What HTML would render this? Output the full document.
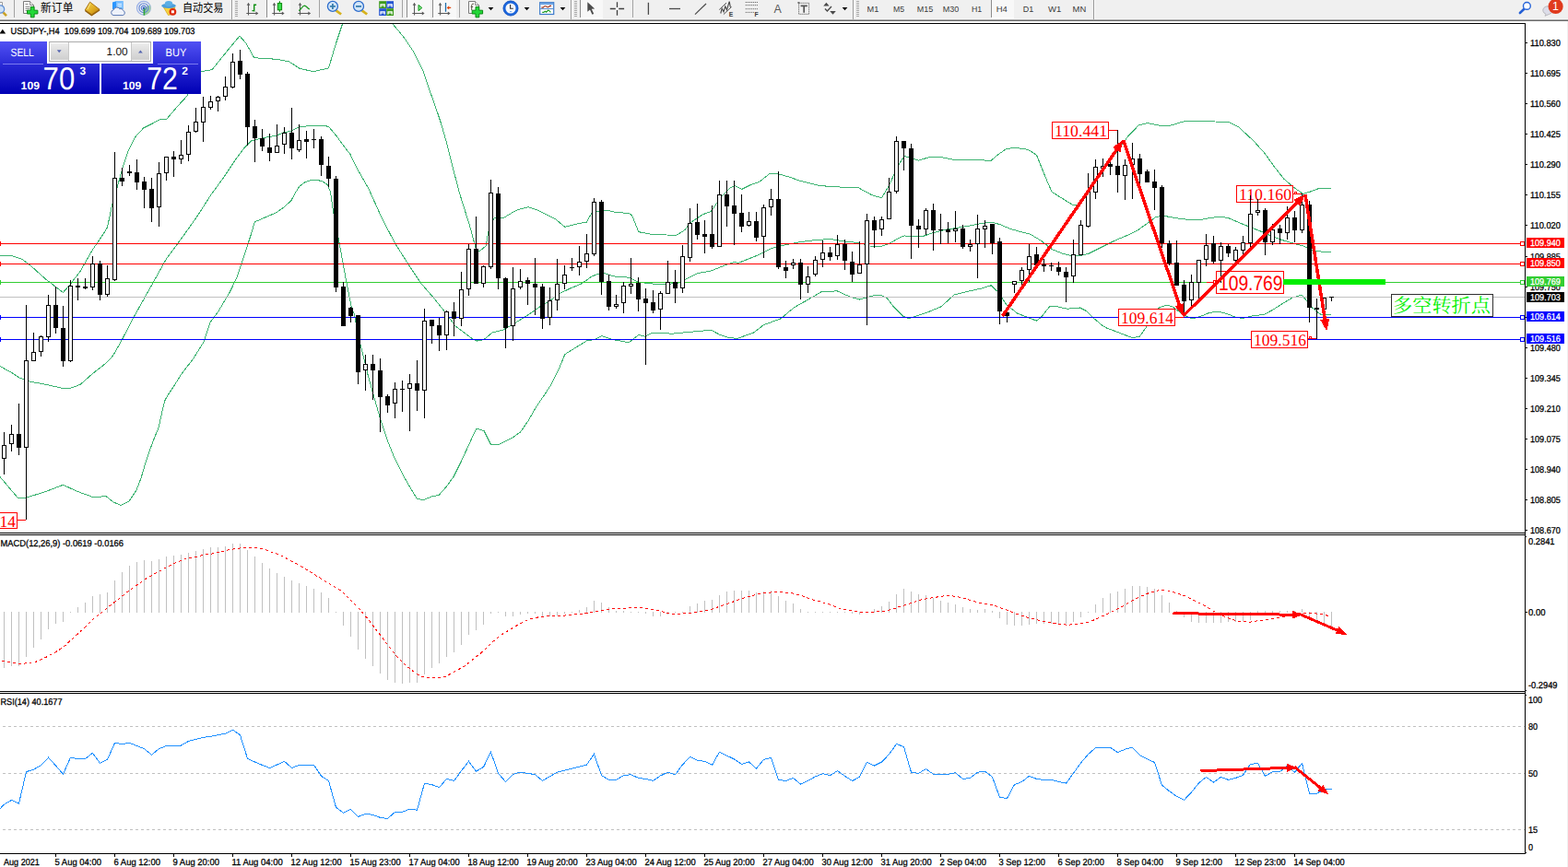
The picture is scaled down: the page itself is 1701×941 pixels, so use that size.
<!DOCTYPE html>
<html><head><meta charset="utf-8"><title>USDJPY H4</title>
<style>html,body{margin:0;padding:0;background:#fff;overflow:hidden}body{width:1701px;height:941px;font-family:"Liberation Sans",sans-serif}text{white-space:pre}</style>
</head><body>
<svg width="1701" height="941" viewBox="0 0 1701 941" style="display:block"><rect x="0" y="0" width="1701" height="941" fill="#ffffff" />
<rect x="0" y="0" width="1701" height="20" fill="#f0f0f0" />
<rect x="0" y="20" width="1701" height="1" fill="#f6f6f6" />
<rect x="0" y="21" width="1701" height="1" fill="#a9a9a9" />
<rect x="0" y="22" width="1701" height="1" fill="#6b6b6b" />
<rect x="0" y="25" width="1655" height="1" fill="#000" />
<rect x="1700" y="23" width="1" height="918" fill="#f0f0f0" />
<rect x="1654" y="25" width="1" height="902" fill="#000" />
<rect x="0" y="578" width="1655" height="1" fill="#000" />
<rect x="0" y="580" width="1655" height="1" fill="#000" />
<rect x="0" y="750" width="1655" height="1" fill="#000" />
<rect x="0" y="752" width="1655" height="1" fill="#000" />
<rect x="0" y="926" width="1655" height="1" fill="#000" />
<rect x="1655" y="579" width="45" height="1" fill="#fff" />
<defs><clipPath id="cm"><rect x="0" y="26" width="1654" height="552"/></clipPath><clipPath id="cmacd"><rect x="0" y="581" width="1654" height="169"/></clipPath><clipPath id="crsi"><rect x="0" y="753" width="1654" height="173"/></clipPath><linearGradient id="gb1" x1="0" y1="0" x2="0" y2="1"><stop offset="0" stop-color="#5252f4"/><stop offset="1" stop-color="#2c2cd8"/></linearGradient><linearGradient id="gb2" x1="0" y1="0" x2="0" y2="1"><stop offset="0" stop-color="#2a2ad6"/><stop offset="1" stop-color="#0000b4"/></linearGradient><linearGradient id="gbtn" x1="0" y1="0" x2="0" y2="1"><stop offset="0" stop-color="#ececec"/><stop offset="0.5" stop-color="#dcdcdc"/><stop offset="1" stop-color="#cfcfcf"/></linearGradient></defs>
<g clip-path="url(#cm)" shape-rendering="crispEdges">
<polyline points="0.0,277.7 13.3,277.7 23.3,281.0 33.4,288.4 50.0,303.4 68.4,317.4 75.0,310.0 86.7,295.0 100.0,271.7 108.0,260.0 111.5,254.9 116.5,246.6 121.4,223.6 127.2,203.0 133.0,182.4 139.5,162.6 147.8,147.0 156.0,138.7 165.9,133.8 172.5,130.1 180.7,129.3 192.3,115.7 203.0,104.1 218.4,77.7 230.0,75.7 246.7,55.0 260.0,39.0 266.7,46.7 275.7,62.7 300.0,64.3 313.3,66.7 325.0,74.3 340.0,77.7 356.5,73.9 364.7,46.4 371.6,25.8 375.0,12.0 400.0,-30.0 421.0,12.0 425.7,25.8 432.0,33.0 438.8,41.5 448.7,56.3 458.6,76.1 465.2,95.8 471.8,114.0 478.4,133.7 485.0,156.8 490.7,179.9 498.8,210.6 510.5,248.2 516.4,270.5 520.0,272.9 527.0,267.0 530.5,248.2 536.4,236.4 547.0,236.0 560.0,228.2 572.8,224.7 583.4,228.2 602.2,237.6 612.8,246.3 625.8,243.0 636.3,241.1 642.2,230.6 654.0,228.2 658.7,228.2 668.1,230.6 682.2,231.3 685.7,234.1 692.8,251.7 708.1,254.5 729.2,255.2 734.0,255.2 743.3,249.4 748.0,242.3 762.1,232.9 771.5,229.4 781.0,215.3 792.7,203.5 797.4,201.9 800.0,203.0 804.7,205.4 814.1,200.7 823.5,197.6 835.3,188.2 844.7,188.9 856.4,192.2 868.2,196.4 889.4,201.6 910.5,203.0 931.7,204.0 945.8,211.7 956.4,214.8 964.6,201.1 974.0,180.0 981.1,169.4 988.1,171.3 996.4,174.1 1007.0,171.0 1018.7,170.1 1035.2,173.4 1058.7,173.6 1075.1,174.3 1082.2,168.2 1091.6,161.6 1101.0,160.2 1115.1,162.3 1124.5,168.2 1133.9,191.7 1141.0,208.2 1150.4,214.1 1159.8,220.0 1164.7,223.0 1169.4,222.3 1183.5,202.3 1197.6,183.5 1211.7,164.7 1223.5,148.2 1235.2,136.0 1244.7,133.6 1261.1,136.9 1270.5,136.0 1287.0,131.0 1301.1,131.0 1334.0,132.9 1343.4,137.6 1359.9,152.9 1371.6,165.9 1383.4,182.3 1392.8,194.1 1402.2,202.3 1413.5,210.5 1421.0,208.2 1430.4,204.7 1444.5,204.0" fill="none" stroke="#3cb371" stroke-width="1" />
<polyline points="0.0,397.5 11.8,404.0 21.2,410.0 31.9,414.0 51.0,417.6 68.2,421.5 77.6,421.0 87.0,417.4 101.1,405.0 115.2,394.0 122.3,386.4 131.7,370.0 145.8,342.9 163.3,311.7 180.0,281.7 199.7,254.9 213.7,235.1 228.5,212.0 241.7,193.9 254.9,174.1 264.7,161.0 273.0,152.7 279.6,151.1 289.5,148.9 299.3,147.4 307.6,143.7 315.8,142.3 324.0,138.2 337.2,136.2 352.1,136.2 357.0,137.9 365.2,147.8 373.5,159.3 380.0,167.5 386.7,181.7 400.0,205.0 414.1,236.4 428.2,263.5 442.3,285.8 456.4,307.0 470.5,323.4 480.0,335.2 487.0,344.6 494.0,354.0 503.5,361.1 512.9,368.1 517.6,370.0 524.6,368.8 534.0,361.1 545.8,358.0 555.2,352.8 564.6,347.0 574.0,341.1 585.8,332.9 597.5,325.8 606.9,318.7 618.7,312.9 630.4,308.2 642.2,299.9 649.3,297.1 656.3,296.9 668.1,300.4 682.2,301.1 691.6,305.8 703.3,307.7 717.5,308.6 733.9,307.7 743.3,303.5 757.4,296.4 771.5,294.0 785.7,288.2 797.4,284.2 800.0,285.8 811.8,281.1 823.5,276.4 837.6,269.3 851.7,265.8 865.8,263.0 880.0,261.1 894.1,259.9 903.5,259.9 917.6,262.3 931.7,263.5 943.4,267.0 955.2,267.7 964.6,264.6 974.0,258.8 981.1,255.9 990.5,256.9 999.9,256.9 1011.6,252.9 1025.7,249.3 1039.9,247.0 1054.0,244.6 1065.7,242.3 1075.1,241.1 1084.5,243.5 1096.3,248.6 1108.0,251.7 1117.5,254.1 1129.2,261.1 1141.0,270.5 1152.7,275.2 1162.1,277.6 1169.4,278.0 1181.2,275.2 1195.3,268.1 1209.4,261.1 1223.5,255.2 1235.2,249.3 1244.7,242.3 1254.1,235.2 1263.5,234.5 1277.6,236.9 1291.7,238.8 1303.4,238.3 1312.9,236.4 1324.6,235.2 1334.0,237.1 1345.8,242.3 1357.5,247.0 1369.3,251.7 1381.0,257.1 1392.8,261.1 1404.6,264.6 1414.0,267.0 1421.0,270.5 1430.4,272.9 1444.5,273.6" fill="none" stroke="#3cb371" stroke-width="1" />
<polyline points="0.0,517.6 19.1,540.0 28.7,540.0 47.8,534.2 68.6,526.2 82.9,533.0 102.1,540.0 114.8,538.4 122.8,544.8 130.8,548.4 139.9,544.2 148.1,531.8 153.1,518.6 158.0,502.1 163.0,487.3 167.9,474.1 172.0,464.3 175.3,449.4 178.6,435.4 181.1,430.5 189.3,418.1 195.9,407.4 200.8,400.8 209.3,389.9 221.0,371.1 228.1,349.9 236.7,338.3 249.3,317.0 256.7,301.7 266.7,271.7 272.2,254.9 276.3,240.9 287.8,235.9 299.3,231.0 307.6,225.2 315.8,217.8 320.8,208.7 324.9,202.1 330.6,198.0 337.2,195.6 343.8,195.2 350.4,197.2 355.4,200.5 358.6,208.7 361.9,231.8 368.3,265.0 375.0,301.7 381.7,335.0 383.9,339.6 391.9,377.8 399.1,406.8 404.9,427.8 412.5,454.6 420.2,477.6 427.8,496.7 437.4,515.8 445.0,529.2 452.3,541.2 459.4,542.6 468.0,539.1 476.2,537.4 484.2,528.2 491.9,517.7 500.5,500.5 510.1,479.5 516.8,465.1 525.0,467.6 532.4,482.3 541.2,482.3 556.0,475.1 564.6,468.9 573.2,456.5 580.8,443.1 590.4,428.8 598.0,417.3 605.7,402.0 612.8,384.6 625.8,376.4 637.5,369.3 644.6,368.8 652.8,364.6 665.7,368.8 682.2,371.7 692.8,363.4 699.8,365.1 708.1,361.1 729.2,362.2 752.7,359.9 771.5,358.2 781.0,363.4 790.4,366.5 799.8,367.4 817.6,361.0 828.2,352.8 847.0,345.8 861.1,334.0 877.6,324.6 891.7,316.4 908.2,315.9 922.3,322.2 932.9,325.1 945.8,321.1 955.2,320.4 962.3,323.4 969.3,332.8 979.9,343.4 986.0,345.5 992.8,343.4 1006.9,338.7 1021.0,332.8 1035.2,319.9 1049.3,316.4 1065.7,312.8 1075.1,309.8 1082.2,316.4 1091.6,330.5 1103.3,339.9 1115.1,344.6 1124.5,348.1 1129.2,344.6 1138.6,332.8 1145.7,332.4 1157.4,335.2 1171.5,334.0 1178.6,337.5 1185.7,344.6 1195.1,352.8 1200.0,355.8 1213.2,360.8 1228.0,366.5 1236.2,365.4 1243.6,355.0 1249.4,344.3 1257.6,333.6 1265.8,331.2 1272.4,333.1 1280.7,339.4 1287.2,343.5 1293.8,346.0 1302.1,343.5 1311.9,339.4 1321.8,338.1 1330.0,340.2 1339.9,344.0 1348.1,345.6 1358.0,343.0 1371.2,341.4 1381.1,336.1 1392.6,328.7 1402.5,322.9 1412.3,320.1 1417.3,326.2 1422.2,332.8 1428.8,338.6 1433.7,341.9 1438.7,341.9 1443.6,341.0" fill="none" stroke="#3cb371" stroke-width="1" />
<rect x="0" y="322" width="1654" height="1" fill="#c0c0c0" />
<rect x="0" y="264" width="1654" height="1" fill="#ff0000" />
<rect x="0" y="286" width="1654" height="1" fill="#ff0000" />
<rect x="0" y="306" width="1654" height="1" fill="#32cd32" />
<rect x="0" y="344" width="1654" height="1" fill="#0000ff" />
<rect x="0" y="368" width="1654" height="1" fill="#0000ff" />
<rect x="0" y="262" width="1" height="5" fill="#ff0000" />
<rect x="0" y="284" width="1" height="5" fill="#ff0000" />
<rect x="0" y="304" width="1" height="5" fill="#32cd32" />
<rect x="0" y="342" width="1" height="5" fill="#0000ff" />
<rect x="0" y="366" width="1" height="5" fill="#0000ff" />
</g>
<rect x="1649" y="262" width="5" height="5" fill="#ff0000" />
<rect x="1650" y="263" width="3" height="3" fill="#fff" />
<rect x="1649" y="284" width="5" height="5" fill="#ff0000" />
<rect x="1650" y="285" width="3" height="3" fill="#fff" />
<rect x="1649" y="304" width="5" height="5" fill="#32cd32" />
<rect x="1650" y="305" width="3" height="3" fill="#fff" />
<rect x="1649" y="342" width="5" height="5" fill="#0000ff" />
<rect x="1650" y="343" width="3" height="3" fill="#fff" />
<rect x="1649" y="366" width="5" height="5" fill="#0000ff" />
<rect x="1650" y="367" width="3" height="3" fill="#fff" />
<rect x="1655" y="46" width="2" height="1" fill="#000" />
<text x="1660" y="50" font-size="10" fill="#000" font-family="Liberation Sans, sans-serif" text-rendering="geometricPrecision" textLength="32.9" lengthAdjust="spacingAndGlyphs" stroke="#000" stroke-width="0.28" >110.830</text>
<rect x="1655" y="79" width="2" height="1" fill="#000" />
<text x="1660" y="83" font-size="10" fill="#000" font-family="Liberation Sans, sans-serif" text-rendering="geometricPrecision" textLength="32.9" lengthAdjust="spacingAndGlyphs" stroke="#000" stroke-width="0.28" >110.695</text>
<rect x="1655" y="112" width="2" height="1" fill="#000" />
<text x="1660" y="116" font-size="10" fill="#000" font-family="Liberation Sans, sans-serif" text-rendering="geometricPrecision" textLength="32.9" lengthAdjust="spacingAndGlyphs" stroke="#000" stroke-width="0.28" >110.560</text>
<rect x="1655" y="145" width="2" height="1" fill="#000" />
<text x="1660" y="149" font-size="10" fill="#000" font-family="Liberation Sans, sans-serif" text-rendering="geometricPrecision" textLength="32.9" lengthAdjust="spacingAndGlyphs" stroke="#000" stroke-width="0.28" >110.425</text>
<rect x="1655" y="178" width="2" height="1" fill="#000" />
<text x="1660" y="182" font-size="10" fill="#000" font-family="Liberation Sans, sans-serif" text-rendering="geometricPrecision" textLength="32.9" lengthAdjust="spacingAndGlyphs" stroke="#000" stroke-width="0.28" >110.290</text>
<rect x="1655" y="211" width="2" height="1" fill="#000" />
<text x="1660" y="215" font-size="10" fill="#000" font-family="Liberation Sans, sans-serif" text-rendering="geometricPrecision" textLength="32.9" lengthAdjust="spacingAndGlyphs" stroke="#000" stroke-width="0.28" >110.155</text>
<rect x="1655" y="244" width="2" height="1" fill="#000" />
<text x="1660" y="248" font-size="10" fill="#000" font-family="Liberation Sans, sans-serif" text-rendering="geometricPrecision" textLength="32.9" lengthAdjust="spacingAndGlyphs" stroke="#000" stroke-width="0.28" >110.020</text>
<rect x="1655" y="278" width="2" height="1" fill="#000" />
<text x="1660" y="282" font-size="10" fill="#000" font-family="Liberation Sans, sans-serif" text-rendering="geometricPrecision" textLength="32.9" lengthAdjust="spacingAndGlyphs" stroke="#000" stroke-width="0.28" >109.885</text>
<rect x="1655" y="311" width="2" height="1" fill="#000" />
<text x="1660" y="315" font-size="10" fill="#000" font-family="Liberation Sans, sans-serif" text-rendering="geometricPrecision" textLength="32.9" lengthAdjust="spacingAndGlyphs" stroke="#000" stroke-width="0.28" >109.750</text>
<rect x="1655" y="344" width="2" height="1" fill="#000" />
<text x="1660" y="348" font-size="10" fill="#000" font-family="Liberation Sans, sans-serif" text-rendering="geometricPrecision" textLength="32.9" lengthAdjust="spacingAndGlyphs" stroke="#000" stroke-width="0.28" >109.615</text>
<rect x="1655" y="377" width="2" height="1" fill="#000" />
<text x="1660" y="381" font-size="10" fill="#000" font-family="Liberation Sans, sans-serif" text-rendering="geometricPrecision" textLength="32.9" lengthAdjust="spacingAndGlyphs" stroke="#000" stroke-width="0.28" >109.480</text>
<rect x="1655" y="410" width="2" height="1" fill="#000" />
<text x="1660" y="414" font-size="10" fill="#000" font-family="Liberation Sans, sans-serif" text-rendering="geometricPrecision" textLength="32.9" lengthAdjust="spacingAndGlyphs" stroke="#000" stroke-width="0.28" >109.345</text>
<rect x="1655" y="443" width="2" height="1" fill="#000" />
<text x="1660" y="447" font-size="10" fill="#000" font-family="Liberation Sans, sans-serif" text-rendering="geometricPrecision" textLength="32.9" lengthAdjust="spacingAndGlyphs" stroke="#000" stroke-width="0.28" >109.210</text>
<rect x="1655" y="476" width="2" height="1" fill="#000" />
<text x="1660" y="480" font-size="10" fill="#000" font-family="Liberation Sans, sans-serif" text-rendering="geometricPrecision" textLength="32.9" lengthAdjust="spacingAndGlyphs" stroke="#000" stroke-width="0.28" >109.075</text>
<rect x="1655" y="509" width="2" height="1" fill="#000" />
<text x="1660" y="513" font-size="10" fill="#000" font-family="Liberation Sans, sans-serif" text-rendering="geometricPrecision" textLength="32.9" lengthAdjust="spacingAndGlyphs" stroke="#000" stroke-width="0.28" >108.940</text>
<rect x="1655" y="542" width="2" height="1" fill="#000" />
<text x="1660" y="546" font-size="10" fill="#000" font-family="Liberation Sans, sans-serif" text-rendering="geometricPrecision" textLength="32.9" lengthAdjust="spacingAndGlyphs" stroke="#000" stroke-width="0.28" >108.805</text>
<rect x="1655" y="575" width="2" height="1" fill="#000" />
<text x="1660" y="579" font-size="10" fill="#000" font-family="Liberation Sans, sans-serif" text-rendering="geometricPrecision" textLength="32.9" lengthAdjust="spacingAndGlyphs" stroke="#000" stroke-width="0.28" >108.670</text>
<rect x="1656" y="258" width="41" height="11" fill="#ff0000" />
<text x="1660" y="267.4" font-size="10" fill="#fff" font-family="Liberation Sans, sans-serif" text-rendering="geometricPrecision" textLength="32.9" lengthAdjust="spacingAndGlyphs" stroke="#fff" stroke-width="0.28" >109.940</text>
<rect x="1656" y="280" width="41" height="11" fill="#ff0000" />
<text x="1660" y="289.4" font-size="10" fill="#fff" font-family="Liberation Sans, sans-serif" text-rendering="geometricPrecision" textLength="32.9" lengthAdjust="spacingAndGlyphs" stroke="#fff" stroke-width="0.28" >109.850</text>
<rect x="1656" y="300" width="41" height="11" fill="#32cd32" />
<text x="1660" y="309.4" font-size="10" fill="#fff" font-family="Liberation Sans, sans-serif" text-rendering="geometricPrecision" textLength="32.9" lengthAdjust="spacingAndGlyphs" stroke="#fff" stroke-width="0.28" >109.769</text>
<rect x="1656" y="317" width="41" height="11" fill="#000000" />
<text x="1660" y="326.4" font-size="10" fill="#fff" font-family="Liberation Sans, sans-serif" text-rendering="geometricPrecision" textLength="32.9" lengthAdjust="spacingAndGlyphs" stroke="#fff" stroke-width="0.28" >109.703</text>
<rect x="1656" y="338" width="41" height="11" fill="#0000ff" />
<text x="1660" y="347.4" font-size="10" fill="#fff" font-family="Liberation Sans, sans-serif" text-rendering="geometricPrecision" textLength="32.9" lengthAdjust="spacingAndGlyphs" stroke="#fff" stroke-width="0.28" >109.614</text>
<rect x="1656" y="362" width="41" height="11" fill="#0000ff" />
<text x="1660" y="371.4" font-size="10" fill="#fff" font-family="Liberation Sans, sans-serif" text-rendering="geometricPrecision" textLength="32.9" lengthAdjust="spacingAndGlyphs" stroke="#fff" stroke-width="0.28" >109.516</text>
<g clip-path="url(#cm)">
<rect x="1141.5" y="132.5" width="61" height="18" fill="#fff" stroke="#ff0000" stroke-width="1" shape-rendering="crispEdges"/>
<text x="1144" y="148" font-size="17.7" fill="#ff0000" font-family="Liberation Serif, serif" text-rendering="geometricPrecision" textLength="57" lengthAdjust="spacingAndGlyphs" >110.441</text>
<rect x="1203" y="141" width="10" height="1" fill="#ff0000" shape-rendering="crispEdges"/>
<rect x="1341.5" y="201.5" width="61" height="18" fill="#fff" stroke="#ff0000" stroke-width="1" shape-rendering="crispEdges"/>
<text x="1344" y="217" font-size="17.7" fill="#ff0000" font-family="Liberation Serif, serif" text-rendering="geometricPrecision" textLength="57" lengthAdjust="spacingAndGlyphs" >110.160</text>
<rect x="1403" y="210" width="10" height="1" fill="#ff0000" shape-rendering="crispEdges"/>
<rect x="1404.5" y="208.5" width="2" height="2" fill="#fff" stroke="#ff0000" stroke-width="1" shape-rendering="crispEdges"/>
<rect x="1213.5" y="335.5" width="61" height="18" fill="#fff" stroke="#ff0000" stroke-width="1" shape-rendering="crispEdges"/>
<text x="1216" y="351" font-size="17.7" fill="#ff0000" font-family="Liberation Serif, serif" text-rendering="geometricPrecision" textLength="57" lengthAdjust="spacingAndGlyphs" >109.614</text>
<rect x="1275" y="344" width="9" height="1" fill="#ff0000" shape-rendering="crispEdges"/>
<rect x="1357.5" y="359.5" width="61" height="18" fill="#fff" stroke="#ff0000" stroke-width="1" shape-rendering="crispEdges"/>
<text x="1360" y="375" font-size="17.7" fill="#ff0000" font-family="Liberation Serif, serif" text-rendering="geometricPrecision" textLength="57" lengthAdjust="spacingAndGlyphs" >109.516</text>
<rect x="1419" y="367" width="10" height="1" fill="#ff0000" shape-rendering="crispEdges"/>
<rect x="1420.5" y="365.5" width="2" height="2" fill="#fff" stroke="#ff0000" stroke-width="1" shape-rendering="crispEdges"/>
<rect x="1309" y="306" width="10" height="1" fill="#ff0000" shape-rendering="crispEdges"/>
<rect x="1316.5" y="304.5" width="2" height="3" fill="#fff" stroke="#ff0000" stroke-width="1" shape-rendering="crispEdges"/>
<rect x="1319.5" y="294.5" width="73" height="24" fill="#fff" stroke="#ff0000" stroke-width="1" shape-rendering="crispEdges"/>
<text x="1322" y="315" font-size="22.5" fill="#ff0000" font-family="Liberation Sans, sans-serif" text-rendering="geometricPrecision" textLength="69.5" lengthAdjust="spacingAndGlyphs" >109.769</text>
<rect x="-42.5" y="556.5" width="61" height="17" fill="#fff" stroke="#ff0000" stroke-width="1" shape-rendering="crispEdges"/>
<text x="-40" y="571.5" font-size="17.7" fill="#ff0000" font-family="Liberation Serif, serif" text-rendering="geometricPrecision" textLength="57" lengthAdjust="spacingAndGlyphs" >108.714</text>
<rect x="19" y="564" width="9" height="1" fill="#ff0000" shape-rendering="crispEdges"/>
</g>
<g clip-path="url(#cm)" shape-rendering="crispEdges">
<rect x="4" y="469" width="1" height="46" fill="#000" />
<rect x="2" y="483" width="5" height="15" fill="#000" />
<rect x="3" y="484" width="3" height="13" fill="#fff" />
<rect x="12" y="461" width="1" height="29" fill="#000" />
<rect x="10" y="471" width="5" height="11" fill="#000" />
<rect x="11" y="472" width="3" height="9" fill="#fff" />
<rect x="20" y="438" width="1" height="56" fill="#000" />
<rect x="18" y="471" width="5" height="15" fill="#000" />
<rect x="28" y="331" width="1" height="233" fill="#000" />
<rect x="26" y="391" width="5" height="95" fill="#000" />
<rect x="27" y="392" width="3" height="93" fill="#fff" />
<rect x="36" y="361" width="1" height="31" fill="#000" />
<rect x="34" y="382" width="5" height="10" fill="#000" />
<rect x="35" y="383" width="3" height="8" fill="#fff" />
<rect x="44" y="364" width="1" height="23" fill="#000" />
<rect x="42" y="365" width="5" height="17" fill="#000" />
<rect x="43" y="366" width="3" height="15" fill="#fff" />
<rect x="52" y="320" width="1" height="51" fill="#000" />
<rect x="50" y="331" width="5" height="35" fill="#000" />
<rect x="51" y="332" width="3" height="33" fill="#fff" />
<rect x="60" y="311" width="1" height="51" fill="#000" />
<rect x="58" y="331" width="5" height="25" fill="#000" />
<rect x="68" y="332" width="1" height="66" fill="#000" />
<rect x="66" y="356" width="5" height="36" fill="#000" />
<rect x="76" y="304" width="1" height="89" fill="#000" />
<rect x="74" y="310" width="5" height="82" fill="#000" />
<rect x="75" y="311" width="3" height="80" fill="#fff" />
<rect x="84" y="302" width="1" height="24" fill="#000" />
<rect x="82" y="310" width="5" height="2" fill="#000" />
<rect x="92" y="302" width="1" height="12" fill="#000" />
<rect x="90" y="311" width="5" height="2" fill="#000" />
<rect x="100" y="278" width="1" height="37" fill="#000" />
<rect x="98" y="286" width="5" height="26" fill="#000" />
<rect x="99" y="287" width="3" height="24" fill="#fff" />
<rect x="108" y="283" width="1" height="43" fill="#000" />
<rect x="106" y="286" width="5" height="34" fill="#000" />
<rect x="116" y="288" width="1" height="34" fill="#000" />
<rect x="114" y="302" width="5" height="18" fill="#000" />
<rect x="115" y="303" width="3" height="16" fill="#fff" />
<rect x="124" y="165" width="1" height="140" fill="#000" />
<rect x="122" y="193" width="5" height="111" fill="#000" />
<rect x="123" y="194" width="3" height="109" fill="#fff" />
<rect x="132" y="182" width="1" height="20" fill="#000" />
<rect x="130" y="193" width="5" height="4" fill="#000" />
<rect x="140" y="179" width="1" height="12" fill="#000" />
<rect x="138" y="186" width="5" height="2" fill="#000" />
<rect x="148" y="173" width="1" height="33" fill="#000" />
<rect x="146" y="187" width="5" height="11" fill="#000" />
<rect x="156" y="192" width="1" height="34" fill="#000" />
<rect x="154" y="197" width="5" height="9" fill="#000" />
<rect x="164" y="193" width="1" height="48" fill="#000" />
<rect x="162" y="205" width="5" height="21" fill="#000" />
<rect x="172" y="176" width="1" height="70" fill="#000" />
<rect x="170" y="188" width="5" height="37" fill="#000" />
<rect x="171" y="189" width="3" height="35" fill="#fff" />
<rect x="180" y="170" width="1" height="26" fill="#000" />
<rect x="178" y="170" width="5" height="18" fill="#000" />
<rect x="179" y="171" width="3" height="16" fill="#fff" />
<rect x="188" y="164" width="1" height="28" fill="#000" />
<rect x="186" y="170" width="5" height="3" fill="#000" />
<rect x="196" y="152" width="1" height="26" fill="#000" />
<rect x="194" y="168" width="5" height="5" fill="#000" />
<rect x="195" y="169" width="3" height="3" fill="#fff" />
<rect x="204" y="136" width="1" height="39" fill="#000" />
<rect x="202" y="143" width="5" height="25" fill="#000" />
<rect x="203" y="144" width="3" height="23" fill="#fff" />
<rect x="212" y="117" width="1" height="27" fill="#000" />
<rect x="210" y="132" width="5" height="11" fill="#000" />
<rect x="211" y="133" width="3" height="9" fill="#fff" />
<rect x="220" y="105" width="1" height="49" fill="#000" />
<rect x="218" y="116" width="5" height="17" fill="#000" />
<rect x="219" y="117" width="3" height="15" fill="#fff" />
<rect x="228" y="104" width="1" height="15" fill="#000" />
<rect x="226" y="110" width="5" height="7" fill="#000" />
<rect x="227" y="111" width="3" height="5" fill="#fff" />
<rect x="236" y="104" width="1" height="17" fill="#000" />
<rect x="234" y="105" width="5" height="5" fill="#000" />
<rect x="235" y="106" width="3" height="3" fill="#fff" />
<rect x="244" y="83" width="1" height="26" fill="#000" />
<rect x="242" y="94" width="5" height="11" fill="#000" />
<rect x="243" y="95" width="3" height="9" fill="#fff" />
<rect x="252" y="58" width="1" height="38" fill="#000" />
<rect x="250" y="67" width="5" height="28" fill="#000" />
<rect x="251" y="68" width="3" height="26" fill="#fff" />
<rect x="260" y="54" width="1" height="32" fill="#000" />
<rect x="258" y="66" width="5" height="15" fill="#000" />
<rect x="268" y="78" width="1" height="80" fill="#000" />
<rect x="266" y="80" width="5" height="58" fill="#000" />
<rect x="276" y="130" width="1" height="46" fill="#000" />
<rect x="274" y="137" width="5" height="13" fill="#000" />
<rect x="284" y="140" width="1" height="24" fill="#000" />
<rect x="282" y="150" width="5" height="9" fill="#000" />
<rect x="292" y="145" width="1" height="30" fill="#000" />
<rect x="290" y="160" width="5" height="6" fill="#000" />
<rect x="300" y="135" width="1" height="31" fill="#000" />
<rect x="298" y="158" width="5" height="8" fill="#000" />
<rect x="299" y="159" width="3" height="6" fill="#fff" />
<rect x="308" y="138" width="1" height="29" fill="#000" />
<rect x="306" y="144" width="5" height="13" fill="#000" />
<rect x="307" y="145" width="3" height="11" fill="#fff" />
<rect x="316" y="117" width="1" height="56" fill="#000" />
<rect x="314" y="144" width="5" height="17" fill="#000" />
<rect x="324" y="135" width="1" height="30" fill="#000" />
<rect x="322" y="152" width="5" height="11" fill="#000" />
<rect x="323" y="153" width="3" height="9" fill="#fff" />
<rect x="332" y="142" width="1" height="30" fill="#000" />
<rect x="330" y="151" width="5" height="3" fill="#000" />
<rect x="340" y="140" width="1" height="21" fill="#000" />
<rect x="338" y="151" width="5" height="1" fill="#000" />
<rect x="348" y="148" width="1" height="43" fill="#000" />
<rect x="346" y="151" width="5" height="28" fill="#000" />
<rect x="356" y="170" width="1" height="33" fill="#000" />
<rect x="354" y="180" width="5" height="14" fill="#000" />
<rect x="364" y="191" width="1" height="126" fill="#000" />
<rect x="362" y="194" width="5" height="118" fill="#000" />
<rect x="372" y="306" width="1" height="48" fill="#000" />
<rect x="370" y="311" width="5" height="43" fill="#000" />
<rect x="380" y="333" width="1" height="17" fill="#000" />
<rect x="378" y="334" width="5" height="9" fill="#000" />
<rect x="388" y="342" width="1" height="75" fill="#000" />
<rect x="386" y="342" width="5" height="62" fill="#000" />
<rect x="396" y="385" width="1" height="39" fill="#000" />
<rect x="394" y="395" width="5" height="7" fill="#000" />
<rect x="395" y="396" width="3" height="5" fill="#fff" />
<rect x="404" y="385" width="1" height="49" fill="#000" />
<rect x="402" y="395" width="5" height="7" fill="#000" />
<rect x="412" y="389" width="1" height="80" fill="#000" />
<rect x="410" y="402" width="5" height="29" fill="#000" />
<rect x="420" y="428" width="1" height="20" fill="#000" />
<rect x="418" y="430" width="5" height="10" fill="#000" />
<rect x="428" y="415" width="1" height="39" fill="#000" />
<rect x="426" y="422" width="5" height="16" fill="#000" />
<rect x="427" y="423" width="3" height="14" fill="#fff" />
<rect x="436" y="413" width="1" height="34" fill="#000" />
<rect x="434" y="422" width="5" height="1" fill="#000" />
<rect x="444" y="406" width="1" height="62" fill="#000" />
<rect x="442" y="416" width="5" height="6" fill="#000" />
<rect x="443" y="417" width="3" height="4" fill="#fff" />
<rect x="452" y="391" width="1" height="55" fill="#000" />
<rect x="450" y="416" width="5" height="8" fill="#000" />
<rect x="460" y="335" width="1" height="119" fill="#000" />
<rect x="458" y="348" width="5" height="76" fill="#000" />
<rect x="459" y="349" width="3" height="74" fill="#fff" />
<rect x="468" y="347" width="1" height="26" fill="#000" />
<rect x="466" y="347" width="5" height="7" fill="#000" />
<rect x="476" y="345" width="1" height="36" fill="#000" />
<rect x="474" y="353" width="5" height="11" fill="#000" />
<rect x="484" y="337" width="1" height="43" fill="#000" />
<rect x="482" y="338" width="5" height="26" fill="#000" />
<rect x="483" y="339" width="3" height="24" fill="#fff" />
<rect x="492" y="328" width="1" height="37" fill="#000" />
<rect x="490" y="338" width="5" height="8" fill="#000" />
<rect x="500" y="295" width="1" height="59" fill="#000" />
<rect x="498" y="314" width="5" height="32" fill="#000" />
<rect x="499" y="315" width="3" height="30" fill="#fff" />
<rect x="508" y="265" width="1" height="56" fill="#000" />
<rect x="506" y="270" width="5" height="44" fill="#000" />
<rect x="507" y="271" width="3" height="42" fill="#fff" />
<rect x="516" y="235" width="1" height="73" fill="#000" />
<rect x="514" y="270" width="5" height="38" fill="#000" />
<rect x="524" y="288" width="1" height="24" fill="#000" />
<rect x="522" y="289" width="5" height="19" fill="#000" />
<rect x="523" y="290" width="3" height="17" fill="#fff" />
<rect x="532" y="195" width="1" height="97" fill="#000" />
<rect x="530" y="209" width="5" height="81" fill="#000" />
<rect x="531" y="210" width="3" height="79" fill="#fff" />
<rect x="540" y="203" width="1" height="111" fill="#000" />
<rect x="538" y="210" width="5" height="92" fill="#000" />
<rect x="548" y="301" width="1" height="77" fill="#000" />
<rect x="546" y="302" width="5" height="54" fill="#000" />
<rect x="556" y="290" width="1" height="80" fill="#000" />
<rect x="554" y="313" width="5" height="41" fill="#000" />
<rect x="555" y="314" width="3" height="39" fill="#fff" />
<rect x="564" y="292" width="1" height="22" fill="#000" />
<rect x="562" y="305" width="5" height="7" fill="#000" />
<rect x="563" y="306" width="3" height="5" fill="#fff" />
<rect x="572" y="301" width="1" height="30" fill="#000" />
<rect x="570" y="304" width="5" height="4" fill="#000" />
<rect x="580" y="280" width="1" height="62" fill="#000" />
<rect x="578" y="308" width="5" height="4" fill="#000" />
<rect x="588" y="308" width="1" height="49" fill="#000" />
<rect x="586" y="311" width="5" height="35" fill="#000" />
<rect x="596" y="312" width="1" height="41" fill="#000" />
<rect x="594" y="326" width="5" height="19" fill="#000" />
<rect x="595" y="327" width="3" height="17" fill="#fff" />
<rect x="604" y="281" width="1" height="56" fill="#000" />
<rect x="602" y="308" width="5" height="18" fill="#000" />
<rect x="603" y="309" width="3" height="16" fill="#fff" />
<rect x="612" y="288" width="1" height="26" fill="#000" />
<rect x="610" y="298" width="5" height="10" fill="#000" />
<rect x="611" y="299" width="3" height="8" fill="#fff" />
<rect x="620" y="280" width="1" height="14" fill="#000" />
<rect x="618" y="290" width="5" height="1" fill="#000" />
<rect x="628" y="267" width="1" height="32" fill="#000" />
<rect x="626" y="284" width="5" height="6" fill="#000" />
<rect x="627" y="285" width="3" height="4" fill="#fff" />
<rect x="636" y="254" width="1" height="37" fill="#000" />
<rect x="634" y="275" width="5" height="9" fill="#000" />
<rect x="635" y="276" width="3" height="7" fill="#fff" />
<rect x="644" y="215" width="1" height="63" fill="#000" />
<rect x="642" y="219" width="5" height="57" fill="#000" />
<rect x="643" y="220" width="3" height="55" fill="#fff" />
<rect x="652" y="217" width="1" height="103" fill="#000" />
<rect x="650" y="219" width="5" height="87" fill="#000" />
<rect x="660" y="298" width="1" height="39" fill="#000" />
<rect x="658" y="305" width="5" height="28" fill="#000" />
<rect x="668" y="320" width="1" height="15" fill="#000" />
<rect x="666" y="330" width="5" height="3" fill="#000" />
<rect x="667" y="331" width="3" height="1" fill="#fff" />
<rect x="676" y="306" width="1" height="34" fill="#000" />
<rect x="674" y="310" width="5" height="19" fill="#000" />
<rect x="675" y="311" width="3" height="17" fill="#fff" />
<rect x="684" y="280" width="1" height="39" fill="#000" />
<rect x="682" y="308" width="5" height="3" fill="#000" />
<rect x="683" y="309" width="3" height="1" fill="#fff" />
<rect x="692" y="301" width="1" height="37" fill="#000" />
<rect x="690" y="307" width="5" height="18" fill="#000" />
<rect x="700" y="313" width="1" height="83" fill="#000" />
<rect x="698" y="324" width="5" height="5" fill="#000" />
<rect x="708" y="315" width="1" height="25" fill="#000" />
<rect x="706" y="328" width="5" height="9" fill="#000" />
<rect x="716" y="316" width="1" height="42" fill="#000" />
<rect x="714" y="318" width="5" height="18" fill="#000" />
<rect x="715" y="319" width="3" height="16" fill="#fff" />
<rect x="724" y="283" width="1" height="36" fill="#000" />
<rect x="722" y="306" width="5" height="13" fill="#000" />
<rect x="723" y="307" width="3" height="11" fill="#fff" />
<rect x="732" y="293" width="1" height="36" fill="#000" />
<rect x="730" y="306" width="5" height="7" fill="#000" />
<rect x="740" y="266" width="1" height="52" fill="#000" />
<rect x="738" y="278" width="5" height="35" fill="#000" />
<rect x="739" y="279" width="3" height="33" fill="#fff" />
<rect x="748" y="226" width="1" height="58" fill="#000" />
<rect x="746" y="242" width="5" height="38" fill="#000" />
<rect x="747" y="243" width="3" height="36" fill="#fff" />
<rect x="756" y="221" width="1" height="39" fill="#000" />
<rect x="754" y="241" width="5" height="14" fill="#000" />
<rect x="764" y="239" width="1" height="36" fill="#000" />
<rect x="762" y="254" width="5" height="3" fill="#000" />
<rect x="772" y="223" width="1" height="47" fill="#000" />
<rect x="770" y="254" width="5" height="14" fill="#000" />
<rect x="780" y="196" width="1" height="72" fill="#000" />
<rect x="778" y="211" width="5" height="57" fill="#000" />
<rect x="779" y="212" width="3" height="55" fill="#fff" />
<rect x="788" y="196" width="1" height="50" fill="#000" />
<rect x="786" y="211" width="5" height="13" fill="#000" />
<rect x="796" y="196" width="1" height="70" fill="#000" />
<rect x="794" y="223" width="5" height="9" fill="#000" />
<rect x="804" y="211" width="1" height="41" fill="#000" />
<rect x="802" y="231" width="5" height="15" fill="#000" />
<rect x="812" y="230" width="1" height="16" fill="#000" />
<rect x="810" y="240" width="5" height="5" fill="#000" />
<rect x="811" y="241" width="3" height="3" fill="#fff" />
<rect x="820" y="230" width="1" height="32" fill="#000" />
<rect x="818" y="240" width="5" height="18" fill="#000" />
<rect x="828" y="222" width="1" height="58" fill="#000" />
<rect x="826" y="225" width="5" height="32" fill="#000" />
<rect x="827" y="226" width="3" height="30" fill="#fff" />
<rect x="836" y="205" width="1" height="29" fill="#000" />
<rect x="834" y="216" width="5" height="9" fill="#000" />
<rect x="835" y="217" width="3" height="7" fill="#fff" />
<rect x="844" y="186" width="1" height="106" fill="#000" />
<rect x="842" y="216" width="5" height="74" fill="#000" />
<rect x="852" y="283" width="1" height="19" fill="#000" />
<rect x="850" y="290" width="5" height="4" fill="#000" />
<rect x="860" y="281" width="1" height="11" fill="#000" />
<rect x="858" y="285" width="5" height="3" fill="#000" />
<rect x="859" y="286" width="3" height="1" fill="#fff" />
<rect x="868" y="281" width="1" height="44" fill="#000" />
<rect x="866" y="285" width="5" height="24" fill="#000" />
<rect x="876" y="289" width="1" height="29" fill="#000" />
<rect x="874" y="300" width="5" height="9" fill="#000" />
<rect x="875" y="301" width="3" height="7" fill="#fff" />
<rect x="884" y="278" width="1" height="22" fill="#000" />
<rect x="882" y="282" width="5" height="16" fill="#000" />
<rect x="883" y="283" width="3" height="14" fill="#fff" />
<rect x="892" y="261" width="1" height="29" fill="#000" />
<rect x="890" y="274" width="5" height="8" fill="#000" />
<rect x="891" y="275" width="3" height="6" fill="#fff" />
<rect x="900" y="268" width="1" height="15" fill="#000" />
<rect x="898" y="274" width="5" height="5" fill="#000" />
<rect x="908" y="255" width="1" height="27" fill="#000" />
<rect x="906" y="265" width="5" height="13" fill="#000" />
<rect x="907" y="266" width="3" height="11" fill="#fff" />
<rect x="916" y="260" width="1" height="33" fill="#000" />
<rect x="914" y="265" width="5" height="18" fill="#000" />
<rect x="924" y="273" width="1" height="33" fill="#000" />
<rect x="922" y="284" width="5" height="14" fill="#000" />
<rect x="932" y="262" width="1" height="35" fill="#000" />
<rect x="930" y="287" width="5" height="10" fill="#000" />
<rect x="931" y="288" width="3" height="8" fill="#fff" />
<rect x="940" y="232" width="1" height="121" fill="#000" />
<rect x="938" y="239" width="5" height="48" fill="#000" />
<rect x="939" y="240" width="3" height="46" fill="#fff" />
<rect x="948" y="235" width="1" height="34" fill="#000" />
<rect x="946" y="239" width="5" height="11" fill="#000" />
<rect x="956" y="235" width="1" height="21" fill="#000" />
<rect x="954" y="238" width="5" height="11" fill="#000" />
<rect x="955" y="239" width="3" height="9" fill="#fff" />
<rect x="964" y="193" width="1" height="45" fill="#000" />
<rect x="962" y="208" width="5" height="30" fill="#000" />
<rect x="963" y="209" width="3" height="28" fill="#fff" />
<rect x="972" y="148" width="1" height="62" fill="#000" />
<rect x="970" y="153" width="5" height="55" fill="#000" />
<rect x="971" y="154" width="3" height="53" fill="#fff" />
<rect x="980" y="153" width="1" height="32" fill="#000" />
<rect x="978" y="153" width="5" height="8" fill="#000" />
<rect x="988" y="156" width="1" height="125" fill="#000" />
<rect x="986" y="161" width="5" height="84" fill="#000" />
<rect x="996" y="238" width="1" height="31" fill="#000" />
<rect x="994" y="245" width="5" height="4" fill="#000" />
<rect x="1004" y="226" width="1" height="29" fill="#000" />
<rect x="1002" y="228" width="5" height="21" fill="#000" />
<rect x="1003" y="229" width="3" height="19" fill="#fff" />
<rect x="1012" y="221" width="1" height="51" fill="#000" />
<rect x="1010" y="228" width="5" height="22" fill="#000" />
<rect x="1020" y="232" width="1" height="33" fill="#000" />
<rect x="1018" y="249" width="5" height="1" fill="#000" />
<rect x="1028" y="241" width="1" height="23" fill="#000" />
<rect x="1026" y="249" width="5" height="3" fill="#000" />
<rect x="1036" y="229" width="1" height="34" fill="#000" />
<rect x="1034" y="248" width="5" height="3" fill="#000" />
<rect x="1035" y="249" width="3" height="1" fill="#fff" />
<rect x="1044" y="244" width="1" height="26" fill="#000" />
<rect x="1042" y="248" width="5" height="20" fill="#000" />
<rect x="1052" y="260" width="1" height="13" fill="#000" />
<rect x="1050" y="265" width="5" height="3" fill="#000" />
<rect x="1051" y="266" width="3" height="1" fill="#fff" />
<rect x="1060" y="233" width="1" height="69" fill="#000" />
<rect x="1058" y="248" width="5" height="17" fill="#000" />
<rect x="1059" y="249" width="3" height="15" fill="#fff" />
<rect x="1068" y="239" width="1" height="30" fill="#000" />
<rect x="1066" y="245" width="5" height="4" fill="#000" />
<rect x="1067" y="246" width="3" height="2" fill="#fff" />
<rect x="1076" y="243" width="1" height="33" fill="#000" />
<rect x="1074" y="243" width="5" height="21" fill="#000" />
<rect x="1084" y="258" width="1" height="94" fill="#000" />
<rect x="1082" y="262" width="5" height="76" fill="#000" />
<rect x="1092" y="338" width="1" height="12" fill="#000" />
<rect x="1090" y="339" width="5" height="4" fill="#000" />
<rect x="1100" y="305" width="1" height="13" fill="#000" />
<rect x="1098" y="305" width="5" height="4" fill="#000" />
<rect x="1099" y="306" width="3" height="2" fill="#fff" />
<rect x="1108" y="290" width="1" height="20" fill="#000" />
<rect x="1106" y="293" width="5" height="12" fill="#000" />
<rect x="1107" y="294" width="3" height="10" fill="#fff" />
<rect x="1116" y="265" width="1" height="41" fill="#000" />
<rect x="1114" y="278" width="5" height="15" fill="#000" />
<rect x="1115" y="279" width="3" height="13" fill="#fff" />
<rect x="1124" y="268" width="1" height="20" fill="#000" />
<rect x="1122" y="276" width="5" height="12" fill="#000" />
<rect x="1132" y="281" width="1" height="14" fill="#000" />
<rect x="1130" y="287" width="5" height="2" fill="#000" />
<rect x="1140" y="285" width="1" height="9" fill="#000" />
<rect x="1138" y="288" width="5" height="1" fill="#000" />
<rect x="1148" y="284" width="1" height="15" fill="#000" />
<rect x="1146" y="290" width="5" height="5" fill="#000" />
<rect x="1156" y="290" width="1" height="38" fill="#000" />
<rect x="1154" y="295" width="5" height="6" fill="#000" />
<rect x="1164" y="260" width="1" height="47" fill="#000" />
<rect x="1162" y="276" width="5" height="24" fill="#000" />
<rect x="1163" y="277" width="3" height="22" fill="#fff" />
<rect x="1172" y="239" width="1" height="38" fill="#000" />
<rect x="1170" y="244" width="5" height="33" fill="#000" />
<rect x="1171" y="245" width="3" height="31" fill="#fff" />
<rect x="1180" y="188" width="1" height="59" fill="#000" />
<rect x="1178" y="208" width="5" height="38" fill="#000" />
<rect x="1179" y="209" width="3" height="36" fill="#fff" />
<rect x="1188" y="173" width="1" height="43" fill="#000" />
<rect x="1186" y="181" width="5" height="28" fill="#000" />
<rect x="1187" y="182" width="3" height="26" fill="#fff" />
<rect x="1196" y="172" width="1" height="20" fill="#000" />
<rect x="1194" y="180" width="5" height="3" fill="#000" />
<rect x="1195" y="181" width="3" height="1" fill="#fff" />
<rect x="1204" y="169" width="1" height="21" fill="#000" />
<rect x="1202" y="178" width="5" height="3" fill="#000" />
<rect x="1212" y="141" width="1" height="68" fill="#000" />
<rect x="1210" y="180" width="5" height="10" fill="#000" />
<rect x="1220" y="173" width="1" height="44" fill="#000" />
<rect x="1218" y="179" width="5" height="12" fill="#000" />
<rect x="1219" y="180" width="3" height="10" fill="#fff" />
<rect x="1228" y="155" width="1" height="61" fill="#000" />
<rect x="1226" y="172" width="5" height="7" fill="#000" />
<rect x="1227" y="173" width="3" height="5" fill="#fff" />
<rect x="1236" y="167" width="1" height="32" fill="#000" />
<rect x="1234" y="172" width="5" height="17" fill="#000" />
<rect x="1244" y="184" width="1" height="14" fill="#000" />
<rect x="1242" y="186" width="5" height="12" fill="#000" />
<rect x="1252" y="184" width="1" height="44" fill="#000" />
<rect x="1250" y="197" width="5" height="7" fill="#000" />
<rect x="1260" y="201" width="1" height="68" fill="#000" />
<rect x="1258" y="203" width="5" height="61" fill="#000" />
<rect x="1268" y="261" width="1" height="27" fill="#000" />
<rect x="1266" y="264" width="5" height="22" fill="#000" />
<rect x="1276" y="261" width="1" height="49" fill="#000" />
<rect x="1274" y="285" width="5" height="25" fill="#000" />
<rect x="1284" y="304" width="1" height="40" fill="#000" />
<rect x="1282" y="309" width="5" height="18" fill="#000" />
<rect x="1292" y="298" width="1" height="36" fill="#000" />
<rect x="1290" y="306" width="5" height="20" fill="#000" />
<rect x="1291" y="307" width="3" height="18" fill="#fff" />
<rect x="1300" y="282" width="1" height="43" fill="#000" />
<rect x="1298" y="282" width="5" height="25" fill="#000" />
<rect x="1299" y="283" width="3" height="23" fill="#fff" />
<rect x="1308" y="254" width="1" height="35" fill="#000" />
<rect x="1306" y="266" width="5" height="16" fill="#000" />
<rect x="1307" y="267" width="3" height="14" fill="#fff" />
<rect x="1316" y="256" width="1" height="30" fill="#000" />
<rect x="1314" y="264" width="5" height="20" fill="#000" />
<rect x="1324" y="263" width="1" height="44" fill="#000" />
<rect x="1322" y="267" width="5" height="16" fill="#000" />
<rect x="1323" y="268" width="3" height="14" fill="#fff" />
<rect x="1332" y="265" width="1" height="14" fill="#000" />
<rect x="1330" y="267" width="5" height="8" fill="#000" />
<rect x="1340" y="268" width="1" height="18" fill="#000" />
<rect x="1338" y="271" width="5" height="12" fill="#000" />
<rect x="1339" y="272" width="3" height="10" fill="#fff" />
<rect x="1348" y="256" width="1" height="22" fill="#000" />
<rect x="1346" y="263" width="5" height="9" fill="#000" />
<rect x="1347" y="264" width="3" height="7" fill="#fff" />
<rect x="1356" y="212" width="1" height="58" fill="#000" />
<rect x="1354" y="232" width="5" height="32" fill="#000" />
<rect x="1355" y="233" width="3" height="30" fill="#fff" />
<rect x="1364" y="216" width="1" height="18" fill="#000" />
<rect x="1362" y="228" width="5" height="3" fill="#000" />
<rect x="1363" y="229" width="3" height="1" fill="#fff" />
<rect x="1372" y="226" width="1" height="51" fill="#000" />
<rect x="1370" y="228" width="5" height="35" fill="#000" />
<rect x="1380" y="243" width="1" height="23" fill="#000" />
<rect x="1378" y="249" width="5" height="14" fill="#000" />
<rect x="1379" y="250" width="3" height="12" fill="#fff" />
<rect x="1388" y="244" width="1" height="21" fill="#000" />
<rect x="1386" y="248" width="5" height="5" fill="#000" />
<rect x="1396" y="224" width="1" height="36" fill="#000" />
<rect x="1394" y="236" width="5" height="17" fill="#000" />
<rect x="1395" y="237" width="3" height="15" fill="#fff" />
<rect x="1404" y="229" width="1" height="34" fill="#000" />
<rect x="1402" y="236" width="5" height="14" fill="#000" />
<rect x="1412" y="210" width="1" height="43" fill="#000" />
<rect x="1410" y="222" width="5" height="28" fill="#000" />
<rect x="1411" y="223" width="3" height="26" fill="#fff" />
<rect x="1420" y="218" width="1" height="132" fill="#000" />
<rect x="1418" y="222" width="5" height="112" fill="#000" />
<rect x="1428" y="324" width="1" height="44" fill="#000" />
<rect x="1426" y="334" width="5" height="2" fill="#000" />
<rect x="1436" y="323" width="1" height="13" fill="#000" />
<rect x="1434" y="323" width="5" height="13" fill="#000" />
<rect x="1435" y="324" width="3" height="11" fill="#fff" />
<rect x="1444" y="322" width="1" height="5" fill="#000" />
<rect x="1442" y="322" width="5" height="1" fill="#000" />
</g>
<g clip-path="url(#cm)">
<line x1="1087.5" y1="343.0" x2="1212.3" y2="161.1" stroke="#ff0000" stroke-width="3.5" shape-rendering="crispEdges"/>
<polygon points="1218.5,152.0 1215.3,165.5 1207.0,159.9" fill="#ff0000" shape-rendering="crispEdges"/>
<line x1="1218.5" y1="152.0" x2="1280.0" y2="332.6" stroke="#ff0000" stroke-width="3.5" shape-rendering="crispEdges"/>
<polygon points="1283.5,343.0 1274.6,332.3 1284.0,329.1" fill="#ff0000" shape-rendering="crispEdges"/>
<line x1="1283.5" y1="343.0" x2="1408.2" y2="218.8" stroke="#ff0000" stroke-width="3.5" shape-rendering="crispEdges"/>
<polygon points="1416.0,211.0 1410.3,223.7 1403.3,216.6" fill="#ff0000" shape-rendering="crispEdges"/>
<line x1="1416.0" y1="211.0" x2="1437.6" y2="348.6" stroke="#ff0000" stroke-width="3.5" shape-rendering="crispEdges"/>
<polygon points="1439.3,359.5 1432.3,347.4 1442.2,345.9" fill="#ff0000" shape-rendering="crispEdges"/>
<rect x="1392" y="303" width="111" height="6" fill="#00ee00" shape-rendering="crispEdges"/>
</g>
<rect x="1509.5" y="319.5" width="110" height="24" fill="#fff" stroke="#303030" stroke-width="1" shape-rendering="crispEdges"/>
<text x="1511" y="338.5" font-size="21.2" fill="#00f000" font-family="Liberation Serif, Noto Serif CJK SC, serif" text-rendering="geometricPrecision" textLength="106" lengthAdjust="spacingAndGlyphs">多空转折点</text>
<polygon points="-0.5,36.4 2.8,31.8 6.2,36.4" fill="#000"/>
<text x="11.5" y="37" font-size="10" fill="#000" font-family="Liberation Sans, sans-serif" text-rendering="geometricPrecision" textLength="200" lengthAdjust="spacingAndGlyphs" stroke="#000" stroke-width="0.28" >USDJPY-,H4&#160;&#160;109.699 109.704 109.689 109.703</text>
<rect x="0" y="45" width="51" height="24" fill="url(#gb1)" />
<rect x="166" y="45" width="52" height="24" fill="url(#gb1)" />
<rect x="0" y="69" width="108" height="33" fill="url(#gb2)" />
<rect x="110" y="69" width="108" height="33" fill="url(#gb2)" />
<rect x="51" y="68" width="115" height="1" fill="#fff" />
<rect x="108" y="69" width="2" height="33" fill="#fff" />
<rect x="3" y="69" width="44" height="1" fill="#7a7af0" />
<rect x="171" y="69" width="44" height="1" fill="#7a7af0" />
<rect x="53.5" y="45.5" width="110" height="21" fill="#fff" stroke="#ababab" stroke-width="1" shape-rendering="crispEdges"/>
<rect x="55" y="47" width="19" height="18" fill="url(#gbtn)" />
<rect x="143" y="47" width="19" height="18" fill="url(#gbtn)" />
<rect x="74" y="46" width="1" height="20" fill="#c8c8c8" />
<rect x="142" y="46" width="1" height="20" fill="#c8c8c8" />
<polygon points="61.8,54.2 66.6,54.2 64.2,57.2" fill="#5666b0"/>
<polygon points="150,57.4 154.8,57.4 152.4,54.4" fill="#5666b0"/>
<text x="11.5" y="60.6" font-size="12" fill="#fff" font-family="Liberation Sans, sans-serif" text-rendering="geometricPrecision" textLength="25.3" lengthAdjust="spacingAndGlyphs" >SELL</text>
<text x="179.6" y="60.6" font-size="12" fill="#fff" font-family="Liberation Sans, sans-serif" text-rendering="geometricPrecision" textLength="22.8" lengthAdjust="spacingAndGlyphs" >BUY</text>
<text x="138.6" y="59.8" font-size="12" fill="#101010" font-family="Liberation Sans, sans-serif" text-rendering="geometricPrecision" text-anchor="end" textLength="23" lengthAdjust="spacingAndGlyphs" >1.00</text>
<text x="22.6" y="96.9" font-size="12" fill="#fff" font-family="Liberation Sans, sans-serif" text-rendering="geometricPrecision" textLength="20.4" lengthAdjust="spacingAndGlyphs" font-weight="bold" >109</text>
<text x="46.6" y="97" font-size="34.5" fill="#fff" font-family="Liberation Sans, sans-serif" text-rendering="geometricPrecision" textLength="34.6" lengthAdjust="spacingAndGlyphs" >70</text>
<text x="86.6" y="81" font-size="12" fill="#fff" font-family="Liberation Sans, sans-serif" text-rendering="geometricPrecision" font-weight="bold" >3</text>
<text x="133" y="96.9" font-size="12" fill="#fff" font-family="Liberation Sans, sans-serif" text-rendering="geometricPrecision" textLength="20.4" lengthAdjust="spacingAndGlyphs" font-weight="bold" >109</text>
<text x="159.2" y="97" font-size="34.5" fill="#fff" font-family="Liberation Sans, sans-serif" text-rendering="geometricPrecision" textLength="33.6" lengthAdjust="spacingAndGlyphs" >72</text>
<text x="197.2" y="81" font-size="12" fill="#fff" font-family="Liberation Sans, sans-serif" text-rendering="geometricPrecision" font-weight="bold" >2</text>
<g clip-path="url(#cmacd)" shape-rendering="crispEdges">
<rect x="4" y="664" width="1" height="61" fill="#c0c0c0" />
<rect x="12" y="664" width="1" height="59" fill="#c0c0c0" />
<rect x="20" y="664" width="1" height="59" fill="#c0c0c0" />
<rect x="28" y="664" width="1" height="49" fill="#c0c0c0" />
<rect x="36" y="664" width="1" height="39" fill="#c0c0c0" />
<rect x="44" y="664" width="1" height="30" fill="#c0c0c0" />
<rect x="52" y="664" width="1" height="19" fill="#c0c0c0" />
<rect x="60" y="664" width="1" height="13" fill="#c0c0c0" />
<rect x="68" y="664" width="1" height="11" fill="#c0c0c0" />
<rect x="76" y="664" width="1" height="1" fill="#c0c0c0" />
<rect x="84" y="659" width="1" height="6" fill="#c0c0c0" />
<rect x="92" y="654" width="1" height="11" fill="#c0c0c0" />
<rect x="100" y="647" width="1" height="18" fill="#c0c0c0" />
<rect x="108" y="645" width="1" height="20" fill="#c0c0c0" />
<rect x="116" y="643" width="1" height="22" fill="#c0c0c0" />
<rect x="124" y="630" width="1" height="35" fill="#c0c0c0" />
<rect x="132" y="621" width="1" height="44" fill="#c0c0c0" />
<rect x="140" y="614" width="1" height="51" fill="#c0c0c0" />
<rect x="148" y="610" width="1" height="55" fill="#c0c0c0" />
<rect x="156" y="608" width="1" height="57" fill="#c0c0c0" />
<rect x="164" y="609" width="1" height="56" fill="#c0c0c0" />
<rect x="172" y="607" width="1" height="58" fill="#c0c0c0" />
<rect x="180" y="604" width="1" height="61" fill="#c0c0c0" />
<rect x="188" y="603" width="1" height="62" fill="#c0c0c0" />
<rect x="196" y="602" width="1" height="63" fill="#c0c0c0" />
<rect x="204" y="600" width="1" height="65" fill="#c0c0c0" />
<rect x="212" y="598" width="1" height="67" fill="#c0c0c0" />
<rect x="220" y="596" width="1" height="69" fill="#c0c0c0" />
<rect x="228" y="594" width="1" height="71" fill="#c0c0c0" />
<rect x="236" y="594" width="1" height="71" fill="#c0c0c0" />
<rect x="244" y="593" width="1" height="72" fill="#c0c0c0" />
<rect x="252" y="590" width="1" height="75" fill="#c0c0c0" />
<rect x="260" y="590" width="1" height="75" fill="#c0c0c0" />
<rect x="268" y="597" width="1" height="68" fill="#c0c0c0" />
<rect x="276" y="604" width="1" height="61" fill="#c0c0c0" />
<rect x="284" y="611" width="1" height="54" fill="#c0c0c0" />
<rect x="292" y="617" width="1" height="48" fill="#c0c0c0" />
<rect x="300" y="622" width="1" height="43" fill="#c0c0c0" />
<rect x="308" y="626" width="1" height="39" fill="#c0c0c0" />
<rect x="316" y="630" width="1" height="35" fill="#c0c0c0" />
<rect x="324" y="633" width="1" height="32" fill="#c0c0c0" />
<rect x="332" y="636" width="1" height="29" fill="#c0c0c0" />
<rect x="340" y="639" width="1" height="26" fill="#c0c0c0" />
<rect x="348" y="643" width="1" height="22" fill="#c0c0c0" />
<rect x="356" y="649" width="1" height="16" fill="#c0c0c0" />
<rect x="364" y="664" width="1" height="1" fill="#c0c0c0" />
<rect x="372" y="664" width="1" height="15" fill="#c0c0c0" />
<rect x="380" y="664" width="1" height="27" fill="#c0c0c0" />
<rect x="388" y="664" width="1" height="41" fill="#c0c0c0" />
<rect x="396" y="664" width="1" height="51" fill="#c0c0c0" />
<rect x="404" y="664" width="1" height="59" fill="#c0c0c0" />
<rect x="412" y="664" width="1" height="67" fill="#c0c0c0" />
<rect x="420" y="664" width="1" height="74" fill="#c0c0c0" />
<rect x="428" y="664" width="1" height="77" fill="#c0c0c0" />
<rect x="436" y="664" width="1" height="78" fill="#c0c0c0" />
<rect x="444" y="664" width="1" height="77" fill="#c0c0c0" />
<rect x="452" y="664" width="1" height="77" fill="#c0c0c0" />
<rect x="460" y="664" width="1" height="68" fill="#c0c0c0" />
<rect x="468" y="664" width="1" height="61" fill="#c0c0c0" />
<rect x="476" y="664" width="1" height="56" fill="#c0c0c0" />
<rect x="484" y="664" width="1" height="49" fill="#c0c0c0" />
<rect x="492" y="664" width="1" height="44" fill="#c0c0c0" />
<rect x="500" y="664" width="1" height="36" fill="#c0c0c0" />
<rect x="508" y="664" width="1" height="25" fill="#c0c0c0" />
<rect x="516" y="664" width="1" height="20" fill="#c0c0c0" />
<rect x="524" y="664" width="1" height="14" fill="#c0c0c0" />
<rect x="532" y="664" width="1" height="2" fill="#c0c0c0" />
<rect x="540" y="664" width="1" height="1" fill="#c0c0c0" />
<rect x="548" y="664" width="1" height="5" fill="#c0c0c0" />
<rect x="556" y="664" width="1" height="5" fill="#c0c0c0" />
<rect x="564" y="664" width="1" height="3" fill="#c0c0c0" />
<rect x="572" y="664" width="1" height="2" fill="#c0c0c0" />
<rect x="580" y="664" width="1" height="2" fill="#c0c0c0" />
<rect x="588" y="664" width="1" height="5" fill="#c0c0c0" />
<rect x="596" y="664" width="1" height="5" fill="#c0c0c0" />
<rect x="604" y="664" width="1" height="4" fill="#c0c0c0" />
<rect x="612" y="664" width="1" height="2" fill="#c0c0c0" />
<rect x="620" y="664" width="1" height="1" fill="#c0c0c0" />
<rect x="628" y="662" width="1" height="3" fill="#c0c0c0" />
<rect x="636" y="659" width="1" height="6" fill="#c0c0c0" />
<rect x="644" y="652" width="1" height="13" fill="#c0c0c0" />
<rect x="652" y="654" width="1" height="11" fill="#c0c0c0" />
<rect x="660" y="659" width="1" height="6" fill="#c0c0c0" />
<rect x="668" y="663" width="1" height="2" fill="#c0c0c0" />
<rect x="676" y="663" width="1" height="2" fill="#c0c0c0" />
<rect x="684" y="664" width="1" height="1" fill="#c0c0c0" />
<rect x="692" y="664" width="1" height="1" fill="#c0c0c0" />
<rect x="700" y="664" width="1" height="2" fill="#c0c0c0" />
<rect x="708" y="664" width="1" height="5" fill="#c0c0c0" />
<rect x="716" y="664" width="1" height="5" fill="#c0c0c0" />
<rect x="724" y="664" width="1" height="3" fill="#c0c0c0" />
<rect x="732" y="664" width="1" height="1" fill="#c0c0c0" />
<rect x="740" y="664" width="1" height="1" fill="#c0c0c0" />
<rect x="748" y="658" width="1" height="7" fill="#c0c0c0" />
<rect x="756" y="655" width="1" height="10" fill="#c0c0c0" />
<rect x="764" y="652" width="1" height="13" fill="#c0c0c0" />
<rect x="772" y="651" width="1" height="14" fill="#c0c0c0" />
<rect x="780" y="646" width="1" height="19" fill="#c0c0c0" />
<rect x="788" y="642" width="1" height="23" fill="#c0c0c0" />
<rect x="796" y="641" width="1" height="24" fill="#c0c0c0" />
<rect x="804" y="641" width="1" height="24" fill="#c0c0c0" />
<rect x="812" y="641" width="1" height="24" fill="#c0c0c0" />
<rect x="820" y="643" width="1" height="22" fill="#c0c0c0" />
<rect x="828" y="642" width="1" height="23" fill="#c0c0c0" />
<rect x="836" y="641" width="1" height="24" fill="#c0c0c0" />
<rect x="844" y="647" width="1" height="18" fill="#c0c0c0" />
<rect x="852" y="652" width="1" height="13" fill="#c0c0c0" />
<rect x="860" y="655" width="1" height="10" fill="#c0c0c0" />
<rect x="868" y="661" width="1" height="4" fill="#c0c0c0" />
<rect x="876" y="664" width="1" height="1" fill="#c0c0c0" />
<rect x="884" y="664" width="1" height="1" fill="#c0c0c0" />
<rect x="892" y="664" width="1" height="1" fill="#c0c0c0" />
<rect x="900" y="664" width="1" height="1" fill="#c0c0c0" />
<rect x="908" y="664" width="1" height="1" fill="#c0c0c0" />
<rect x="916" y="664" width="1" height="1" fill="#c0c0c0" />
<rect x="924" y="664" width="1" height="2" fill="#c0c0c0" />
<rect x="932" y="664" width="1" height="3" fill="#c0c0c0" />
<rect x="940" y="664" width="1" height="1" fill="#c0c0c0" />
<rect x="948" y="661" width="1" height="4" fill="#c0c0c0" />
<rect x="956" y="658" width="1" height="7" fill="#c0c0c0" />
<rect x="964" y="653" width="1" height="12" fill="#c0c0c0" />
<rect x="972" y="645" width="1" height="20" fill="#c0c0c0" />
<rect x="980" y="639" width="1" height="26" fill="#c0c0c0" />
<rect x="988" y="642" width="1" height="23" fill="#c0c0c0" />
<rect x="996" y="645" width="1" height="20" fill="#c0c0c0" />
<rect x="1004" y="646" width="1" height="19" fill="#c0c0c0" />
<rect x="1012" y="649" width="1" height="16" fill="#c0c0c0" />
<rect x="1020" y="652" width="1" height="13" fill="#c0c0c0" />
<rect x="1028" y="654" width="1" height="11" fill="#c0c0c0" />
<rect x="1036" y="656" width="1" height="9" fill="#c0c0c0" />
<rect x="1044" y="659" width="1" height="6" fill="#c0c0c0" />
<rect x="1052" y="661" width="1" height="4" fill="#c0c0c0" />
<rect x="1060" y="662" width="1" height="3" fill="#c0c0c0" />
<rect x="1068" y="661" width="1" height="4" fill="#c0c0c0" />
<rect x="1076" y="663" width="1" height="2" fill="#c0c0c0" />
<rect x="1084" y="664" width="1" height="7" fill="#c0c0c0" />
<rect x="1092" y="664" width="1" height="14" fill="#c0c0c0" />
<rect x="1100" y="664" width="1" height="15" fill="#c0c0c0" />
<rect x="1108" y="664" width="1" height="15" fill="#c0c0c0" />
<rect x="1116" y="664" width="1" height="14" fill="#c0c0c0" />
<rect x="1124" y="664" width="1" height="13" fill="#c0c0c0" />
<rect x="1132" y="664" width="1" height="13" fill="#c0c0c0" />
<rect x="1140" y="664" width="1" height="13" fill="#c0c0c0" />
<rect x="1148" y="664" width="1" height="14" fill="#c0c0c0" />
<rect x="1156" y="664" width="1" height="13" fill="#c0c0c0" />
<rect x="1164" y="664" width="1" height="11" fill="#c0c0c0" />
<rect x="1172" y="664" width="1" height="6" fill="#c0c0c0" />
<rect x="1180" y="664" width="1" height="1" fill="#c0c0c0" />
<rect x="1188" y="656" width="1" height="9" fill="#c0c0c0" />
<rect x="1196" y="649" width="1" height="16" fill="#c0c0c0" />
<rect x="1204" y="644" width="1" height="21" fill="#c0c0c0" />
<rect x="1212" y="642" width="1" height="23" fill="#c0c0c0" />
<rect x="1220" y="639" width="1" height="26" fill="#c0c0c0" />
<rect x="1228" y="636" width="1" height="29" fill="#c0c0c0" />
<rect x="1236" y="636" width="1" height="29" fill="#c0c0c0" />
<rect x="1244" y="637" width="1" height="28" fill="#c0c0c0" />
<rect x="1252" y="639" width="1" height="26" fill="#c0c0c0" />
<rect x="1260" y="646" width="1" height="19" fill="#c0c0c0" />
<rect x="1268" y="654" width="1" height="11" fill="#c0c0c0" />
<rect x="1276" y="663" width="1" height="2" fill="#c0c0c0" />
<rect x="1284" y="664" width="1" height="6" fill="#c0c0c0" />
<rect x="1292" y="664" width="1" height="11" fill="#c0c0c0" />
<rect x="1300" y="664" width="1" height="12" fill="#c0c0c0" />
<rect x="1308" y="664" width="1" height="12" fill="#c0c0c0" />
<rect x="1316" y="664" width="1" height="12" fill="#c0c0c0" />
<rect x="1324" y="664" width="1" height="12" fill="#c0c0c0" />
<rect x="1332" y="664" width="1" height="11" fill="#c0c0c0" />
<rect x="1340" y="664" width="1" height="11" fill="#c0c0c0" />
<rect x="1348" y="664" width="1" height="10" fill="#c0c0c0" />
<rect x="1356" y="664" width="1" height="9" fill="#c0c0c0" />
<rect x="1364" y="663" width="1" height="2" fill="#c0c0c0" />
<rect x="1372" y="663" width="1" height="2" fill="#c0c0c0" />
<rect x="1380" y="663" width="1" height="2" fill="#c0c0c0" />
<rect x="1388" y="663" width="1" height="2" fill="#c0c0c0" />
<rect x="1396" y="663" width="1" height="2" fill="#c0c0c0" />
<rect x="1404" y="663" width="1" height="2" fill="#c0c0c0" />
<rect x="1412" y="661" width="1" height="4" fill="#c0c0c0" />
<rect x="1420" y="664" width="1" height="5" fill="#c0c0c0" />
<rect x="1428" y="664" width="1" height="9" fill="#c0c0c0" />
<rect x="1436" y="664" width="1" height="12" fill="#c0c0c0" />
<rect x="1444" y="664" width="1" height="18" fill="#c0c0c0" />
<polyline points="2.0,716.9 12.0,719.3 20.0,720.3 30.0,719.9 40.0,717.9 50.0,713.3 60.0,707.9 70.0,701.3 80.0,691.9 90.0,682.9 100.0,672.9 110.0,664.9 120.0,656.9 130.0,649.0 140.0,641.0 150.0,634.0 160.0,627.0 170.0,621.6 180.0,616.0 190.0,611.0 200.0,607.0 210.0,605.0 220.0,602.4 230.0,601.0 240.0,598.6 250.0,596.4 260.0,595.0 270.0,594.6 280.0,594.6 286.0,595.6 294.0,599.0 304.0,602.4 314.0,608.0 324.0,613.0 334.0,619.0 340.0,623.0 350.0,629.0 360.0,635.0 370.0,641.0 380.0,651.0 390.0,661.0 400.0,673.0 410.0,686.0 420.0,699.0 430.0,712.0 440.0,722.0 450.0,730.0 456.0,734.0 464.0,735.3 476.0,735.3 484.0,734.0 494.0,728.5 504.0,722.9 514.0,714.9 524.0,706.9 534.0,696.9 544.0,688.9 554.0,682.9 564.0,676.9 574.0,672.3 584.0,669.9 596.0,668.3 610.0,668.3 620.0,667.3 634.0,665.9 644.0,663.9 654.0,662.3 664.0,660.9 680.0,660.0 694.0,659.5 706.0,661.3 718.0,663.5 724.0,665.9 736.0,666.5 748.0,665.3 760.0,663.5 772.0,661.3 780.0,658.5 790.0,655.0 800.0,651.4 810.0,648.0 820.0,645.4 830.0,643.6 840.0,642.6 850.0,643.0 860.0,644.0 870.0,646.6 880.0,650.4 890.0,653.0 900.0,656.0 910.0,660.0 920.0,662.3 930.0,664.0 940.0,664.3 950.0,664.0 960.0,663.0 968.0,661.3 976.0,658.5 984.0,656.0 992.0,653.4 1000.0,650.6 1010.0,649.0 1023.0,647.0 1030.0,646.4 1044.0,648.6 1054.0,652.0 1066.0,655.0 1078.0,657.0 1090.0,661.3 1102.0,666.0 1114.0,670.0 1126.0,673.0 1138.0,675.5 1150.0,677.3 1158.0,678.3 1170.0,677.0 1182.0,675.0 1192.0,670.5 1204.0,665.0 1216.0,659.0 1228.0,652.0 1238.0,647.0 1248.0,643.0 1258.0,640.6 1266.0,640.6 1276.0,643.6 1286.0,647.0 1296.0,652.0 1306.0,657.0 1316.0,663.0 1326.0,668.0 1336.0,672.3 1344.0,674.3 1356.0,675.3 1360.0,674.3 1370.0,673.3 1380.0,671.3 1390.0,670.0 1400.0,668.3 1412.0,665.3 1420.0,665.3 1428.0,666.0 1436.0,667.0 1444.0,669.3" fill="none" stroke="#ff0000" stroke-width="1" stroke-dasharray="3 3"/>
</g>
<g clip-path="url(#cmacd)">
<line x1="1272.5" y1="665.7" x2="1404.0" y2="667.2" stroke="#ff0000" stroke-width="3.0" shape-rendering="crispEdges"/>
<polygon points="1413.0,667.3 1401.9,671.7 1402.1,662.7" fill="#ff0000" shape-rendering="crispEdges"/>
<line x1="1410.0" y1="666.6" x2="1452.3" y2="684.8" stroke="#ff0000" stroke-width="3.0" shape-rendering="crispEdges"/>
<polygon points="1461.5,688.8 1448.7,688.2 1452.3,679.9" fill="#ff0000" shape-rendering="crispEdges"/>
</g>
<text x="0.5" y="592.5" font-size="10" fill="#000" font-family="Liberation Sans, sans-serif" text-rendering="geometricPrecision" textLength="133.5" lengthAdjust="spacingAndGlyphs" stroke="#000" stroke-width="0.28" >MACD(12,26,9) -0.0619 -0.0166</text>
<rect x="1655" y="582" width="1" height="1" fill="#000" />
<rect x="1655" y="664" width="2" height="1" fill="#000" />
<rect x="1655" y="749" width="1" height="1" fill="#000" />
<text x="1658" y="591" font-size="10" fill="#000" font-family="Liberation Sans, sans-serif" text-rendering="geometricPrecision" textLength="28.5" lengthAdjust="spacingAndGlyphs" stroke="#000" stroke-width="0.28" >0.2841</text>
<text x="1658" y="668.4" font-size="10" fill="#000" font-family="Liberation Sans, sans-serif" text-rendering="geometricPrecision" textLength="18.5" lengthAdjust="spacingAndGlyphs" stroke="#000" stroke-width="0.28" >0.00</text>
<text x="1658" y="747.4" font-size="10" fill="#000" font-family="Liberation Sans, sans-serif" text-rendering="geometricPrecision" textLength="31.5" lengthAdjust="spacingAndGlyphs" stroke="#000" stroke-width="0.28" >-0.2949</text>
<g clip-path="url(#crsi)">
<line x1="3" y1="788.5" x2="1654" y2="788.5" stroke="#c0c0c0" stroke-width="1" stroke-dasharray="3 3" shape-rendering="crispEdges"/>
<line x1="3" y1="839.5" x2="1654" y2="839.5" stroke="#c0c0c0" stroke-width="1" stroke-dasharray="3 3" shape-rendering="crispEdges"/>
<line x1="3" y1="900.5" x2="1654" y2="900.5" stroke="#c0c0c0" stroke-width="1" stroke-dasharray="3 3" shape-rendering="crispEdges"/>
<polyline points="0.0,877.8 4.5,873.1 12.5,868.4 20.5,872.1 28.5,837.6 36.5,835.2 44.5,830.6 52.5,822.2 60.5,831.0 68.5,840.3 76.5,822.2 84.5,823.5 92.5,823.5 100.5,817.3 108.5,828.4 116.5,824.3 124.5,806.4 132.5,807.5 140.5,806.4 148.5,809.5 156.5,812.6 164.5,819.4 172.5,812.6 180.5,809.5 188.5,809.1 196.5,809.1 204.5,804.4 212.5,802.3 220.5,800.3 228.5,799.3 236.5,797.8 244.5,796.2 252.5,792.1 260.5,797.8 268.5,823.3 276.5,827.0 284.5,830.4 292.5,833.5 300.5,830.0 308.5,826.3 316.5,833.5 324.5,830.4 332.5,830.4 340.5,830.4 348.5,842.3 356.5,847.5 364.5,876.2 372.5,882.3 380.5,878.2 388.5,886.4 396.5,883.3 404.5,884.4 412.5,887.4 420.5,888.5 428.5,881.3 436.5,881.3 444.5,878.2 452.5,879.2 460.5,850.1 468.5,851.6 476.5,854.6 484.5,845.4 492.5,847.5 500.5,836.6 508.5,826.3 516.5,837.2 524.5,832.5 532.5,816.3 540.5,839.3 548.5,848.5 556.5,840.3 564.5,838.2 572.5,839.3 580.5,840.7 588.5,847.5 596.5,842.7 604.5,838.2 612.5,836.2 620.5,834.1 628.5,832.1 636.5,830.0 644.5,818.3 652.5,841.7 660.5,846.4 668.5,846.4 676.5,841.7 684.5,840.7 692.5,844.4 700.5,845.4 708.5,847.5 716.5,841.9 724.5,838.2 732.5,840.7 740.5,830.0 748.5,821.2 756.5,825.3 764.5,826.3 772.5,830.4 780.5,816.1 788.5,820.2 796.5,823.9 804.5,829.4 812.5,827.0 820.5,834.1 828.5,824.5 836.5,822.2 844.5,846.4 852.5,847.5 860.5,844.4 868.5,851.1 876.5,847.5 884.5,842.9 892.5,839.7 900.5,841.7 908.5,836.6 916.5,842.3 924.5,847.5 932.5,843.4 940.5,827.4 948.5,831.0 956.5,827.0 964.5,818.7 972.5,807.5 980.5,810.5 988.5,838.2 996.5,839.3 1004.5,834.5 1012.5,840.3 1020.5,840.7 1028.5,840.3 1036.5,838.8 1044.5,845.4 1052.5,844.4 1060.5,838.2 1068.5,837.2 1076.5,843.4 1084.5,865.3 1092.5,866.5 1100.5,851.6 1108.5,848.5 1116.5,842.3 1124.5,845.4 1132.5,846.4 1140.5,846.4 1148.5,848.5 1156.5,850.1 1164.5,839.3 1172.5,828.0 1180.5,818.7 1188.5,811.6 1196.5,811.2 1204.5,811.2 1212.5,816.7 1220.5,813.2 1228.5,811.2 1236.5,819.8 1244.5,823.9 1252.5,827.4 1260.5,852.2 1268.5,858.7 1276.5,864.3 1284.5,868.4 1292.5,859.8 1300.5,849.9 1308.5,843.4 1316.5,849.1 1324.5,843.4 1332.5,846.4 1340.5,844.4 1348.5,841.3 1356.5,829.4 1364.5,828.4 1372.5,842.3 1380.5,837.6 1388.5,837.6 1396.5,831.0 1404.5,838.2 1412.5,828.4 1420.5,861.2 1428.5,861.2 1436.5,856.7 1444.5,856.3" fill="none" stroke="#1e90ff" stroke-width="1" shape-rendering="crispEdges"/>
<line x1="1302.5" y1="836.6" x2="1398.0" y2="833.3" stroke="#ff0000" stroke-width="3.0" shape-rendering="crispEdges"/>
<polygon points="1407.0,833.0 1396.2,837.9 1395.9,828.9" fill="#ff0000" shape-rendering="crispEdges"/>
<line x1="1404.5" y1="832.6" x2="1434.0" y2="856.4" stroke="#ff0000" stroke-width="3.0" shape-rendering="crispEdges"/>
<polygon points="1441.0,862.0 1429.6,858.6 1435.3,851.6" fill="#ff0000" shape-rendering="crispEdges"/>
</g>
<text x="0.5" y="764.5" font-size="10" fill="#000" font-family="Liberation Sans, sans-serif" text-rendering="geometricPrecision" textLength="67" lengthAdjust="spacingAndGlyphs" stroke="#000" stroke-width="0.28" >RSI(14) 40.1677</text>
<text x="1658" y="763.4" font-size="10" fill="#000" font-family="Liberation Sans, sans-serif" text-rendering="geometricPrecision" textLength="15.1" lengthAdjust="spacingAndGlyphs" stroke="#000" stroke-width="0.28" >100</text>
<text x="1658" y="792.4" font-size="10" fill="#000" font-family="Liberation Sans, sans-serif" text-rendering="geometricPrecision" textLength="10.1" lengthAdjust="spacingAndGlyphs" stroke="#000" stroke-width="0.28" >80</text>
<text x="1658" y="842.9" font-size="10" fill="#000" font-family="Liberation Sans, sans-serif" text-rendering="geometricPrecision" textLength="10.1" lengthAdjust="spacingAndGlyphs" stroke="#000" stroke-width="0.28" >50</text>
<text x="1658" y="903.9" font-size="10" fill="#000" font-family="Liberation Sans, sans-serif" text-rendering="geometricPrecision" textLength="10.1" lengthAdjust="spacingAndGlyphs" stroke="#000" stroke-width="0.28" >15</text>
<text x="1658" y="922.9" font-size="10" fill="#000" font-family="Liberation Sans, sans-serif" text-rendering="geometricPrecision" textLength="5.0" lengthAdjust="spacingAndGlyphs" stroke="#000" stroke-width="0.28" >0</text>
<rect x="1655" y="754" width="1" height="1" fill="#000" />
<rect x="1655" y="925" width="1" height="1" fill="#000" />
<text x="4" y="938.5" font-size="10" fill="#000" font-family="Liberation Sans, sans-serif" text-rendering="geometricPrecision" textLength="38.8" lengthAdjust="spacingAndGlyphs" stroke="#000" stroke-width="0.28" >Aug 2021</text>
<rect x="60" y="927" width="1" height="3" fill="#000" />
<text x="59.5" y="938.5" font-size="10" fill="#000" font-family="Liberation Sans, sans-serif" text-rendering="geometricPrecision" textLength="50.4" lengthAdjust="spacingAndGlyphs" stroke="#000" stroke-width="0.28" >5 Aug 04:00</text>
<rect x="124" y="927" width="1" height="3" fill="#000" />
<text x="123.5" y="938.5" font-size="10" fill="#000" font-family="Liberation Sans, sans-serif" text-rendering="geometricPrecision" textLength="50.4" lengthAdjust="spacingAndGlyphs" stroke="#000" stroke-width="0.28" >6 Aug 12:00</text>
<rect x="188" y="927" width="1" height="3" fill="#000" />
<text x="187.5" y="938.5" font-size="10" fill="#000" font-family="Liberation Sans, sans-serif" text-rendering="geometricPrecision" textLength="50.4" lengthAdjust="spacingAndGlyphs" stroke="#000" stroke-width="0.28" >9 Aug 20:00</text>
<rect x="252" y="927" width="1" height="3" fill="#000" />
<text x="251.5" y="938.5" font-size="10" fill="#000" font-family="Liberation Sans, sans-serif" text-rendering="geometricPrecision" textLength="55.2" lengthAdjust="spacingAndGlyphs" stroke="#000" stroke-width="0.28" >11 Aug 04:00</text>
<rect x="316" y="927" width="1" height="3" fill="#000" />
<text x="315.5" y="938.5" font-size="10" fill="#000" font-family="Liberation Sans, sans-serif" text-rendering="geometricPrecision" textLength="55.2" lengthAdjust="spacingAndGlyphs" stroke="#000" stroke-width="0.28" >12 Aug 12:00</text>
<rect x="380" y="927" width="1" height="3" fill="#000" />
<text x="379.5" y="938.5" font-size="10" fill="#000" font-family="Liberation Sans, sans-serif" text-rendering="geometricPrecision" textLength="55.2" lengthAdjust="spacingAndGlyphs" stroke="#000" stroke-width="0.28" >15 Aug 23:00</text>
<rect x="444" y="927" width="1" height="3" fill="#000" />
<text x="443.5" y="938.5" font-size="10" fill="#000" font-family="Liberation Sans, sans-serif" text-rendering="geometricPrecision" textLength="55.2" lengthAdjust="spacingAndGlyphs" stroke="#000" stroke-width="0.28" >17 Aug 04:00</text>
<rect x="508" y="927" width="1" height="3" fill="#000" />
<text x="507.5" y="938.5" font-size="10" fill="#000" font-family="Liberation Sans, sans-serif" text-rendering="geometricPrecision" textLength="55.2" lengthAdjust="spacingAndGlyphs" stroke="#000" stroke-width="0.28" >18 Aug 12:00</text>
<rect x="572" y="927" width="1" height="3" fill="#000" />
<text x="571.5" y="938.5" font-size="10" fill="#000" font-family="Liberation Sans, sans-serif" text-rendering="geometricPrecision" textLength="55.2" lengthAdjust="spacingAndGlyphs" stroke="#000" stroke-width="0.28" >19 Aug 20:00</text>
<rect x="636" y="927" width="1" height="3" fill="#000" />
<text x="635.5" y="938.5" font-size="10" fill="#000" font-family="Liberation Sans, sans-serif" text-rendering="geometricPrecision" textLength="55.2" lengthAdjust="spacingAndGlyphs" stroke="#000" stroke-width="0.28" >23 Aug 04:00</text>
<rect x="700" y="927" width="1" height="3" fill="#000" />
<text x="699.5" y="938.5" font-size="10" fill="#000" font-family="Liberation Sans, sans-serif" text-rendering="geometricPrecision" textLength="55.2" lengthAdjust="spacingAndGlyphs" stroke="#000" stroke-width="0.28" >24 Aug 12:00</text>
<rect x="764" y="927" width="1" height="3" fill="#000" />
<text x="763.5" y="938.5" font-size="10" fill="#000" font-family="Liberation Sans, sans-serif" text-rendering="geometricPrecision" textLength="55.2" lengthAdjust="spacingAndGlyphs" stroke="#000" stroke-width="0.28" >25 Aug 20:00</text>
<rect x="828" y="927" width="1" height="3" fill="#000" />
<text x="827.5" y="938.5" font-size="10" fill="#000" font-family="Liberation Sans, sans-serif" text-rendering="geometricPrecision" textLength="55.2" lengthAdjust="spacingAndGlyphs" stroke="#000" stroke-width="0.28" >27 Aug 04:00</text>
<rect x="892" y="927" width="1" height="3" fill="#000" />
<text x="891.5" y="938.5" font-size="10" fill="#000" font-family="Liberation Sans, sans-serif" text-rendering="geometricPrecision" textLength="55.2" lengthAdjust="spacingAndGlyphs" stroke="#000" stroke-width="0.28" >30 Aug 12:00</text>
<rect x="956" y="927" width="1" height="3" fill="#000" />
<text x="955.5" y="938.5" font-size="10" fill="#000" font-family="Liberation Sans, sans-serif" text-rendering="geometricPrecision" textLength="55.2" lengthAdjust="spacingAndGlyphs" stroke="#000" stroke-width="0.28" >31 Aug 20:00</text>
<rect x="1020" y="927" width="1" height="3" fill="#000" />
<text x="1019.5" y="938.5" font-size="10" fill="#000" font-family="Liberation Sans, sans-serif" text-rendering="geometricPrecision" textLength="50.4" lengthAdjust="spacingAndGlyphs" stroke="#000" stroke-width="0.28" >2 Sep 04:00</text>
<rect x="1084" y="927" width="1" height="3" fill="#000" />
<text x="1083.5" y="938.5" font-size="10" fill="#000" font-family="Liberation Sans, sans-serif" text-rendering="geometricPrecision" textLength="50.4" lengthAdjust="spacingAndGlyphs" stroke="#000" stroke-width="0.28" >3 Sep 12:00</text>
<rect x="1148" y="927" width="1" height="3" fill="#000" />
<text x="1147.5" y="938.5" font-size="10" fill="#000" font-family="Liberation Sans, sans-serif" text-rendering="geometricPrecision" textLength="50.4" lengthAdjust="spacingAndGlyphs" stroke="#000" stroke-width="0.28" >6 Sep 20:00</text>
<rect x="1212" y="927" width="1" height="3" fill="#000" />
<text x="1211.5" y="938.5" font-size="10" fill="#000" font-family="Liberation Sans, sans-serif" text-rendering="geometricPrecision" textLength="50.4" lengthAdjust="spacingAndGlyphs" stroke="#000" stroke-width="0.28" >8 Sep 04:00</text>
<rect x="1276" y="927" width="1" height="3" fill="#000" />
<text x="1275.5" y="938.5" font-size="10" fill="#000" font-family="Liberation Sans, sans-serif" text-rendering="geometricPrecision" textLength="50.4" lengthAdjust="spacingAndGlyphs" stroke="#000" stroke-width="0.28" >9 Sep 12:00</text>
<rect x="1340" y="927" width="1" height="3" fill="#000" />
<text x="1339.5" y="938.5" font-size="10" fill="#000" font-family="Liberation Sans, sans-serif" text-rendering="geometricPrecision" textLength="55.2" lengthAdjust="spacingAndGlyphs" stroke="#000" stroke-width="0.28" >12 Sep 23:00</text>
<rect x="1404" y="927" width="1" height="3" fill="#000" />
<text x="1403.5" y="938.5" font-size="10" fill="#000" font-family="Liberation Sans, sans-serif" text-rendering="geometricPrecision" textLength="55.2" lengthAdjust="spacingAndGlyphs" stroke="#000" stroke-width="0.28" >14 Sep 04:00</text>
<g><path d="M-1 2.5h3.5v7" fill="#fff" stroke="#9a9a9a" stroke-width="1"/>
<circle cx="0.5" cy="10" r="4.2" fill="#cfe2f6" stroke="#5f8fd4" stroke-width="1.2"/>
<path d="M3.6 13.6L7 17.2" stroke="#c9a227" stroke-width="2.6" stroke-linecap="butt"/>
<rect x="15" y="0" width="1" height="19" fill="#a2a2a2"/>
<path d="M25.5 1.5h7l4 4v9h-11z" fill="#fdfdfd" stroke="#7a7a7a" stroke-width="1"/>
<path d="M32.5 1.5v4h4" fill="#e4e4e4" stroke="#7a7a7a" stroke-width="0.8"/>
<path d="M27.5 4.5h3M27.5 7.5h5M27.5 9.5h5M27.5 11.5h3" stroke="#8a8a8a" stroke-width="1"/>
<path d="M33.300000000000004 7.3999999999999995h3.8v3.8h3.8v3.8h-3.8v3.8h-3.8v-3.8h-3.8v-3.8h3.8z" fill="#22d838" stroke="#0a8a14" stroke-width="1"/>
<defs><linearGradient id="gbk" x1="0" y1="0" x2="1" y2="1"><stop offset="0" stop-color="#f6d650"/><stop offset="0.55" stop-color="#e0ac22"/><stop offset="1" stop-color="#b47a0c"/></linearGradient></defs>
<path d="M92.2 12.2L99.4 17.5L108.3 11.4L108.1 9.8L99.5 15.4L92.4 10.6Z" fill="#8f5c0a"/>
<path d="M97.6 2.2L108 10.2L99.5 15.8L92.3 10.8Z" fill="url(#gbk)" stroke="#a26a0e" stroke-width="0.9" stroke-linejoin="round"/>
<path d="M97.9 3.6L95 10.2" stroke="#fbe88a" stroke-width="0.9" fill="none"/>
<path d="M122 2.5L126 1.2H133.5V10H122Z" fill="#2a96ff"/>
<path d="M126 1.2H133.5V10H126Z" fill="#7cc0ff"/>
<path d="M127.5 4.5h4.5M127.5 6.5h4.5" stroke="#e8f4ff" stroke-width="1"/>
<path d="M123 16.6a3 3 0 0 1 0.3-5.9a3.6 3.6 0 0 1 6.6-1a2.6 2.6 0 0 1 3.6 1.7a2.7 2.7 0 0 1-0.3 5.2z" fill="#eef2fa" stroke="#5877b3" stroke-width="1"/>
<circle cx="155.9" cy="8.7" r="7.4" fill="none" stroke="#9db2e6" stroke-width="1.2"/>
<path d="M155.9 8.7L155.9 16.4A7.7 7.7 0 0 0 162.8 5.5Z" fill="#9fd0a0"/>
<circle cx="155.9" cy="8.7" r="5" fill="none" stroke="#5c82d6" stroke-width="1.1"/>
<circle cx="155.9" cy="8.7" r="2.7" fill="none" stroke="#3f6bd0" stroke-width="1"/>
<circle cx="155.9" cy="8.7" r="1.3" fill="#2a55c8"/>
<path d="M156.4 9.5V16.6" stroke="#2fa63a" stroke-width="1.6"/>
<path d="M177.5 8L190 8L186 15.5L182.5 16.5Z" fill="#f7d43e" stroke="#d8a820" stroke-width="0.8"/>
<ellipse cx="183" cy="6.3" rx="7.8" ry="2.6" fill="#4b9edb"/>
<ellipse cx="183" cy="4" rx="4.2" ry="3" fill="#5aaee6"/>
<circle cx="187.4" cy="12.8" r="3.9" fill="#dd2a0c"/>
<rect x="185.9" y="11.3" width="3" height="3" fill="#fff"/>
<rect x="251" y="0" width="1" height="21" fill="#9a9a9a"/><rect x="252" y="0" width="1" height="21" fill="#fbfbfb"/>
<rect x="255" y="1" width="3" height="1" fill="#a8a8a8"/>
<rect x="255" y="3" width="3" height="1" fill="#a8a8a8"/>
<rect x="255" y="5" width="3" height="1" fill="#a8a8a8"/>
<rect x="255" y="7" width="3" height="1" fill="#a8a8a8"/>
<rect x="255" y="9" width="3" height="1" fill="#a8a8a8"/>
<rect x="255" y="11" width="3" height="1" fill="#a8a8a8"/>
<rect x="255" y="13" width="3" height="1" fill="#a8a8a8"/>
<rect x="255" y="15" width="3" height="1" fill="#a8a8a8"/>
<rect x="255" y="17" width="3" height="1" fill="#a8a8a8"/>
<path d="M269.5 3.5V16.5M267.3 14.5H279.5" stroke="#5a5a5a" stroke-width="1.05" fill="none"/>
<path d="M267.6 5.7L269.5 2.9L271.4 5.7Z M277.5 12.6L280.3 14.5L277.5 16.4Z" fill="#5a5a5a"/>
<path d="M275.7 4.4V12.5M275.7 5.3h2.4M273.4 11.6h2.3" stroke="#0f8f12" stroke-width="1.4" fill="none"/>
<rect x="290" y="0" width="25" height="19" fill="#f8f8f8"/>
<rect x="289" y="0" width="1" height="19" fill="#8c8c8c"/>
<rect x="289" y="19" width="26" height="1" fill="#ffffff"/>
<path d="M297.5 3.5V16.5M295.3 14.5H307.8" stroke="#5a5a5a" stroke-width="1.05" fill="none"/>
<path d="M295.6 5.7L297.5 2.9L299.4 5.7Z M305.8 12.6L308.6 14.5L305.8 16.4Z" fill="#5a5a5a"/>
<path d="M303.4 1.2V12.8" stroke="#0a8a0a" stroke-width="1.2"/>
<rect x="301.3" y="3.6" width="4.3" height="7.2" fill="#3ce050" stroke="#0a8a0a" stroke-width="1"/>
<path d="M325.5 3.5V16.5M323.3 14.5H336.3" stroke="#5a5a5a" stroke-width="1.05" fill="none"/>
<path d="M323.6 5.7L325.5 2.9L327.4 5.7Z M334.3 12.6L337.1 14.5L334.3 16.4Z" fill="#5a5a5a"/>
<path d="M324.2 11.6C327 10 328 6.3 330.3 6.2C332.5 6.2 333.5 9.3 335.9 10" fill="none" stroke="#1f9a22" stroke-width="1.3"/>
<rect x="346" y="0" width="1" height="19" fill="#a2a2a2"/>
<path d="M364.5 11.3L370.09999999999997 15.5" stroke="#d6b21e" stroke-width="2.8"/>
<circle cx="360.9" cy="6.9" r="5.5" fill="#d3e6f8" stroke="#2d6dcc" stroke-width="1.3"/>
<path d="M357.9 6.9h6M360.9 3.9000000000000004v6" stroke="#3a7fae" stroke-width="1.8"/>
<path d="M392.6 11.3L398.2 15.5" stroke="#d6b21e" stroke-width="2.8"/>
<circle cx="389" cy="6.9" r="5.5" fill="#d3e6f8" stroke="#2d6dcc" stroke-width="1.3"/>
<path d="M386 6.9h6" stroke="#3a7fae" stroke-width="1.8"/>
<rect x="411.2" y="1.2" width="7.8" height="7.8" fill="#3d9b1c"/>
<path d="M412.4 4.2h5.4v3.6h-1.2v-1.2h-3v1.2h-1.2z" fill="#fff"/>
<rect x="413.59999999999997" y="5.2" width="3" height="0.9" fill="#3d9b1c" opacity="0.45"/>
<rect x="419.2" y="1.2" width="7.8" height="7.8" fill="#2454d2"/>
<path d="M420.4 4.2h5.4v3.6h-1.2v-1.2h-3v1.2h-1.2z" fill="#fff"/>
<rect x="421.59999999999997" y="5.2" width="3" height="0.9" fill="#2454d2" opacity="0.45"/>
<rect x="411.2" y="9.2" width="7.8" height="7.8" fill="#2454d2"/>
<path d="M412.4 12.2h5.4v3.6h-1.2v-1.2h-3v1.2h-1.2z" fill="#fff"/>
<rect x="413.59999999999997" y="13.2" width="3" height="0.9" fill="#2454d2" opacity="0.45"/>
<rect x="419.2" y="9.2" width="7.8" height="7.8" fill="#3d9b1c"/>
<path d="M420.4 12.2h5.4v3.6h-1.2v-1.2h-3v1.2h-1.2z" fill="#fff"/>
<rect x="421.59999999999997" y="13.2" width="3" height="0.9" fill="#3d9b1c" opacity="0.45"/>
<rect x="436" y="0" width="1" height="19" fill="#a2a2a2"/>
<rect x="442" y="0" width="25" height="19" fill="#f8f8f8"/>
<rect x="441" y="0" width="1" height="19" fill="#8c8c8c"/>
<rect x="441" y="19" width="26" height="1" fill="#ffffff"/>
<path d="M449.5 3.5V16.5M447.3 14.5H459.8" stroke="#5a5a5a" stroke-width="1.05" fill="none"/>
<path d="M447.6 5.7L449.5 2.9L451.4 5.7Z M457.8 12.6L460.6 14.5L457.8 16.4Z" fill="#5a5a5a"/>
<polygon points="454,5.4 457.8,8.5 454,11.7" fill="#7ee08c" stroke="#129a18" stroke-width="1"/>
<rect x="470" y="0" width="25" height="19" fill="#f8f8f8"/>
<rect x="469" y="0" width="1" height="19" fill="#8c8c8c"/>
<rect x="469" y="19" width="26" height="1" fill="#ffffff"/>
<path d="M477.5 3.5V16.5M475.3 14.5H487.8" stroke="#5a5a5a" stroke-width="1.05" fill="none"/>
<path d="M475.6 5.7L477.5 2.9L479.4 5.7Z M485.8 12.6L488.6 14.5L485.8 16.4Z" fill="#5a5a5a"/>
<path d="M483.5 3V12.8" stroke="#1c6ca8" stroke-width="1.3"/>
<path d="M484.6 8.4L487.2 6.2V7.7H489.2V9.1H487.2V10.6Z" fill="#e0480e"/>
<rect x="498" y="0" width="1" height="19" fill="#a2a2a2"/>
<path d="M508.5 1.5h7l4 4v9h-11z" fill="#fdfdfd" stroke="#7a7a7a" stroke-width="1"/>
<path d="M515.5 1.5v4h4" fill="#e4e4e4" stroke="#7a7a7a" stroke-width="0.8"/>
<path d="M514 4.2c-1.6-0.4-2.3 0.4-2.3 1.6v5.4M510.6 7.4h2.6" fill="none" stroke="#555040" stroke-width="1"/>
<path d="M516.0 7.3999999999999995h3.8v3.8h3.8v3.8h-3.8v3.8h-3.8v-3.8h-3.8v-3.8h3.8z" fill="#22d838" stroke="#0a8a14" stroke-width="1"/>
<polygon points="529.6,8 535.4,8 532.5,11.3" fill="#000"/>
<circle cx="554" cy="9" r="6.9" fill="#f4f6fa" stroke="#1c66dc" stroke-width="2.7"/>
<circle cx="554" cy="9" r="8.1" fill="none" stroke="#0f4cb4" stroke-width="0.6"/>
<path d="M553.6 5V9.2H556.8" fill="none" stroke="#333" stroke-width="1.1"/>
<path d="M553 12.5h2.2" stroke="#7ab0f0" stroke-width="1"/>
<polygon points="568.6,8 574.4,8 571.5,11.3" fill="#000"/>
<rect x="585.7" y="2.7" width="15" height="12.8" fill="#fff" stroke="#3b7acb" stroke-width="1.2"/>
<rect x="586.2" y="3.2" width="14" height="1.8" fill="#5e9be0"/>
<path d="M586.3 9.6h13.8" stroke="#3b7acb" stroke-width="0.9"/>
<path d="M587.4 8.1h1.8l1.6-1.4h1.5l1.2 1h1.6l1.4-1.3h1.6" fill="none" stroke="#9a2a12" stroke-width="1.1"/>
<path d="M588.2 13.4h1.6l1.5-1.2l1.4 1l1.8-2l1.2 0.2l1.7 1.9" fill="none" stroke="#1c9a24" stroke-width="1.1"/>
<polygon points="607.6,8 613.4,8 610.5,11.3" fill="#000"/>
<rect x="619" y="0" width="1" height="21" fill="#9a9a9a"/><rect x="620" y="0" width="1" height="21" fill="#fbfbfb"/>
<rect x="623" y="1" width="3" height="1" fill="#a8a8a8"/>
<rect x="623" y="3" width="3" height="1" fill="#a8a8a8"/>
<rect x="623" y="5" width="3" height="1" fill="#a8a8a8"/>
<rect x="623" y="7" width="3" height="1" fill="#a8a8a8"/>
<rect x="623" y="9" width="3" height="1" fill="#a8a8a8"/>
<rect x="623" y="11" width="3" height="1" fill="#a8a8a8"/>
<rect x="623" y="13" width="3" height="1" fill="#a8a8a8"/>
<rect x="623" y="15" width="3" height="1" fill="#a8a8a8"/>
<rect x="623" y="17" width="3" height="1" fill="#a8a8a8"/>
<rect x="630" y="0" width="24" height="19" fill="#f8f8f8"/>
<rect x="629" y="0" width="1" height="19" fill="#8c8c8c"/>
<rect x="629" y="19" width="25" height="1" fill="#ffffff"/>
<path d="M637.3 2.2L637.3 12.8L640 10.4L642.4 15.8L644.2 15L641.8 9.7L645.2 9.5Z" fill="#4d4d4d"/>
<path d="M669.5 2.2V8M669.5 11V16.8M661.8 9.5H667.8M671.2 9.5H677.1" stroke="#3f3f3f" stroke-width="1.3"/>
<rect x="686" y="0" width="1" height="19" fill="#a2a2a2"/>
<path d="M703.4 2.8V15.9" stroke="#4a4a4a" stroke-width="1.3"/>
<path d="M726 9.5H738" stroke="#4a4a4a" stroke-width="1.3"/>
<path d="M754 15.6L766 4" stroke="#4a4a4a" stroke-width="1.2"/>
<path d="M780.2 10.6L788 3.1M784.9 15.6L793.6 7.5" stroke="#555" stroke-width="1"/>
<path d="M781.8 14.5L783.2 9.2L785 12.8L786.8 6.8L788.5 10.6L791.2 1.6L792.4 7.8" fill="none" stroke="#444" stroke-width="1.1"/>
<text x="790.8" y="17.8" font-size="6.8" font-weight="bold" fill="#3a3a3a" font-family="Liberation Sans, sans-serif">E</text>
<path d="M808.8 2.5H822" stroke="#555" stroke-width="1" stroke-dasharray="1 1"/>
<path d="M808.8 5.6H822" stroke="#555" stroke-width="1" stroke-dasharray="1 1"/>
<path d="M808.8 9.7H822" stroke="#555" stroke-width="1" stroke-dasharray="1 1"/>
<path d="M808.8 13.4H818" stroke="#555" stroke-width="1" stroke-dasharray="1 1"/>
<text x="818.6" y="17.8" font-size="6.8" font-weight="bold" fill="#3a3a3a" font-family="Liberation Sans, sans-serif">F</text>
<text x="839.6" y="14" font-size="12.4" fill="#5a5a5a" font-family="Liberation Sans, sans-serif">A</text>
<rect x="866.6" y="3.3" width="11" height="12" fill="none" stroke="#4a4a4a" stroke-width="1" stroke-dasharray="1 1"/>
<rect x="865.4" y="2.2" width="2" height="1.4" fill="#4a4a4a"/>
<path d="M868.6 6.4h7.2M872.2 6.4V13.8" stroke="#555" stroke-width="1.7" fill="none"/>
<path d="M896.4 2.8L899.6 6.4H893.2Z M903.5 15.8L900.2 12H906.8Z" fill="#4a4a4a"/>
<path d="M895 9.6L897.4 12L902 7" fill="none" stroke="#4a4a4a" stroke-width="1.4"/>
<polygon points="913.6,8 919.4,8 916.5,11.3" fill="#000"/>
<rect x="925" y="0" width="1" height="21" fill="#9a9a9a"/><rect x="926" y="0" width="1" height="21" fill="#fbfbfb"/>
<rect x="929" y="1" width="3" height="1" fill="#a8a8a8"/>
<rect x="929" y="3" width="3" height="1" fill="#a8a8a8"/>
<rect x="929" y="5" width="3" height="1" fill="#a8a8a8"/>
<rect x="929" y="7" width="3" height="1" fill="#a8a8a8"/>
<rect x="929" y="9" width="3" height="1" fill="#a8a8a8"/>
<rect x="929" y="11" width="3" height="1" fill="#a8a8a8"/>
<rect x="929" y="13" width="3" height="1" fill="#a8a8a8"/>
<rect x="929" y="15" width="3" height="1" fill="#a8a8a8"/>
<rect x="929" y="17" width="3" height="1" fill="#a8a8a8"/>
<rect x="1076" y="0" width="24" height="19" fill="#f8f8f8"/>
<rect x="1075" y="0" width="1" height="19" fill="#8c8c8c"/>
<rect x="1075" y="19" width="25" height="1" fill="#ffffff"/>
<text x="940.5" y="12.9" font-size="9.6" fill="#3c3c3c" font-family="Liberation Sans, sans-serif" textLength="12.8" lengthAdjust="spacingAndGlyphs">M1</text>
<text x="968.9" y="12.9" font-size="9.6" fill="#3c3c3c" font-family="Liberation Sans, sans-serif" textLength="12.1" lengthAdjust="spacingAndGlyphs">M5</text>
<text x="994.7" y="12.9" font-size="9.6" fill="#3c3c3c" font-family="Liberation Sans, sans-serif" textLength="17.5" lengthAdjust="spacingAndGlyphs">M15</text>
<text x="1022.7" y="12.9" font-size="9.6" fill="#3c3c3c" font-family="Liberation Sans, sans-serif" textLength="17.5" lengthAdjust="spacingAndGlyphs">M30</text>
<text x="1053.9" y="12.9" font-size="9.6" fill="#3c3c3c" font-family="Liberation Sans, sans-serif" textLength="11.2" lengthAdjust="spacingAndGlyphs">H1</text>
<text x="1080.7" y="12.9" font-size="9.6" fill="#3c3c3c" font-family="Liberation Sans, sans-serif" textLength="12.1" lengthAdjust="spacingAndGlyphs">H4</text>
<text x="1109.7" y="12.9" font-size="9.6" fill="#3c3c3c" font-family="Liberation Sans, sans-serif" textLength="11.5" lengthAdjust="spacingAndGlyphs">D1</text>
<text x="1137.1" y="12.9" font-size="9.6" fill="#3c3c3c" font-family="Liberation Sans, sans-serif" textLength="14.3" lengthAdjust="spacingAndGlyphs">W1</text>
<text x="1163.6" y="12.9" font-size="9.6" fill="#3c3c3c" font-family="Liberation Sans, sans-serif" textLength="14.6" lengthAdjust="spacingAndGlyphs">MN</text>
<rect x="1186" y="0" width="1" height="21" fill="#9a9a9a"/><rect x="1187" y="0" width="1" height="21" fill="#fbfbfb"/>
<path d="M1653.4 9.8L1648.9 14" stroke="#2560d6" stroke-width="2.6" stroke-linecap="round"/>
<circle cx="1656.4" cy="6.4" r="3.9" fill="#fbfcff" stroke="#2563d8" stroke-width="1.4"/>
<path d="M1676 17.3L1677 15.2A5.3 4.4 0 1 1 1680.5 15.4Z" fill="#dcdde9" stroke="#b4b4b8" stroke-width="0.9"/>
<circle cx="1687.6" cy="6.9" r="8.1" fill="#e03a1e"/>
<text x="1687.6" y="11.4" font-size="12.5" fill="#fff" text-anchor="middle" font-family="Liberation Sans, sans-serif">1</text>
<text x="44" y="12.5" font-size="12" fill="#000" font-family="Liberation Sans, Noto Sans CJK SC, sans-serif" textLength="35.5" lengthAdjust="spacingAndGlyphs">新订单</text>
<text x="198" y="12.5" font-size="12" fill="#000" font-family="Liberation Sans, Noto Sans CJK SC, sans-serif" textLength="44.5" lengthAdjust="spacingAndGlyphs">自动交易</text></g>
</svg>
</body></html>
